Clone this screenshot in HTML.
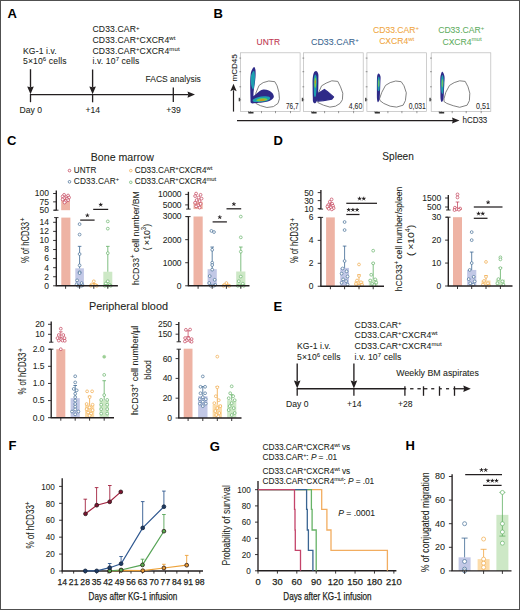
<!DOCTYPE html><html><head><meta charset="utf-8"><style>html,body{margin:0;padding:0;background:#fff;}svg{display:block;}text{font-family:"Liberation Sans", sans-serif;}</style></head><body>
<svg width="520" height="610" viewBox="0 0 520 610">
<rect x="0" y="0" width="520" height="610" fill="#fff" />
<text x="7.6" y="18.4" font-size="13" fill="#000" font-weight="bold">A</text>
<text x="213.6" y="18.3" font-size="13" fill="#000" font-weight="bold">B</text>
<text x="6.9" y="145" font-size="13" fill="#000" font-weight="bold">C</text>
<text x="273.6" y="145" font-size="13" fill="#000" font-weight="bold">D</text>
<text x="273.6" y="310.8" font-size="13" fill="#000" font-weight="bold">E</text>
<text x="8.5" y="450" font-size="13" fill="#000" font-weight="bold">F</text>
<text x="209.8" y="450.5" font-size="13" fill="#000" font-weight="bold">G</text>
<text x="405.6" y="450.3" font-size="13" fill="#000" font-weight="bold">H</text>
<text x="23" y="53.5" font-size="8.6" fill="#231f20" stroke="#231f20" stroke-width="0.07" style="letter-spacing:0.12px">KG-1 i.v.</text>
<text x="23" y="64" font-size="8.6" fill="#231f20" stroke="#231f20" stroke-width="0.07" style="letter-spacing:0.12px">5×10<tspan dy="-2.9" font-size="6.0">6</tspan><tspan dy="2.9">​</tspan> cells</text>
<line x1="30.5" y1="69.2" x2="30.5" y2="87.4" stroke="#231f20" stroke-width="1.35"/>
<path d="M27.2,86.4 L30.5,94.2 L33.8,86.4 L30.5,87.2 Z" fill="#231f20"/>
<line x1="29.9" y1="94.6" x2="188.5" y2="94.6" stroke="#231f20" stroke-width="1.3"/>
<path d="M187.5,91.39999999999999 L195,94.6 L187.5,97.8 L188.3,94.6 Z" fill="#231f20"/>
<line x1="30.5" y1="94.6" x2="30.5" y2="102.2" stroke="#231f20" stroke-width="1.3"/>
<line x1="92.6" y1="94.6" x2="92.6" y2="102.3" stroke="#231f20" stroke-width="1.3"/>
<line x1="173.3" y1="87.5" x2="173.3" y2="102" stroke="#231f20" stroke-width="1.3"/>
<line x1="92.6" y1="69.5" x2="92.6" y2="87.4" stroke="#231f20" stroke-width="1.35"/>
<path d="M89.3,86.4 L92.6,94.2 L95.89999999999999,86.4 L92.6,87.2 Z" fill="#231f20"/>
<text x="30.7" y="113" font-size="8.6" fill="#231f20" stroke="#231f20" stroke-width="0.07" text-anchor="middle">Day 0</text>
<text x="92.7" y="113" font-size="8.6" fill="#231f20" stroke="#231f20" stroke-width="0.07" text-anchor="middle">+14</text>
<text x="173.6" y="113.1" font-size="8.6" fill="#231f20" stroke="#231f20" stroke-width="0.07" text-anchor="middle">+39</text>
<text x="145.6" y="82.4" font-size="8.6" fill="#231f20" stroke="#231f20" stroke-width="0.07" textLength="55.2" lengthAdjust="spacingAndGlyphs">FACS analysis</text>
<text x="92.5" y="32.4" font-size="8.6" fill="#231f20" stroke="#231f20" stroke-width="0.07" style="letter-spacing:0.12px">CD33.CAR<tspan dy="-2.9" font-size="6.0">+</tspan><tspan dy="2.9">​</tspan></text>
<text x="92.5" y="42.9" font-size="8.6" fill="#231f20" stroke="#231f20" stroke-width="0.07" style="letter-spacing:0.12px">CD33.CAR<tspan dy="-2.9" font-size="6.0">+</tspan><tspan dy="2.9">​</tspan>CXCR4<tspan dy="-2.9" font-size="6.0">wt</tspan><tspan dy="2.9">​</tspan></text>
<text x="92.5" y="53.5" font-size="8.6" fill="#231f20" stroke="#231f20" stroke-width="0.07" style="letter-spacing:0.12px">CD33.CAR<tspan dy="-2.9" font-size="6.0">+</tspan><tspan dy="2.9">​</tspan>CXCR4<tspan dy="-2.9" font-size="6.0">mut</tspan><tspan dy="2.9">​</tspan></text>
<text x="92.5" y="64" font-size="8.6" fill="#231f20" stroke="#231f20" stroke-width="0.07" style="letter-spacing:0.12px">i.v. 10<tspan dy="-2.9" font-size="6.0">7</tspan><tspan dy="2.9">​</tspan> cells</text>
<text x="297" y="348.9" font-size="8.6" fill="#231f20" stroke="#231f20" stroke-width="0.07" style="letter-spacing:0.12px">KG-1 i.v.</text>
<text x="297" y="359.6" font-size="8.6" fill="#231f20" stroke="#231f20" stroke-width="0.07" style="letter-spacing:0.12px">5×10<tspan dy="-2.9" font-size="6.0">6</tspan><tspan dy="2.9">​</tspan> cells</text>
<line x1="297.2" y1="363.6" x2="297.2" y2="381.59999999999997" stroke="#231f20" stroke-width="1.35"/>
<path d="M293.9,380.59999999999997 L297.2,388.4 L300.5,380.59999999999997 L297.2,381.4 Z" fill="#231f20"/>
<line x1="353.9" y1="363.6" x2="353.9" y2="381.59999999999997" stroke="#231f20" stroke-width="1.35"/>
<path d="M350.59999999999997,380.59999999999997 L353.9,388.4 L357.2,380.59999999999997 L353.9,381.4 Z" fill="#231f20"/>
<line x1="296.6" y1="388.75" x2="406.2" y2="388.75" stroke="#231f20" stroke-width="1.3"/>
<line x1="410.1" y1="388.75" x2="413.5" y2="388.75" stroke="#231f20" stroke-width="1.3"/>
<line x1="417.4" y1="388.75" x2="420.8" y2="388.75" stroke="#231f20" stroke-width="1.3"/>
<line x1="423.5" y1="388.75" x2="427.4" y2="388.75" stroke="#231f20" stroke-width="1.3"/>
<line x1="431.2" y1="388.75" x2="434.3" y2="388.75" stroke="#231f20" stroke-width="1.3"/>
<line x1="439.5" y1="388.75" x2="441.8" y2="388.75" stroke="#231f20" stroke-width="1.3"/>
<line x1="446" y1="388.75" x2="449.1" y2="388.75" stroke="#231f20" stroke-width="1.3"/>
<line x1="453.3" y1="388.75" x2="464.3" y2="388.75" stroke="#231f20" stroke-width="1.3"/>
<path d="M463.3,385.55 L470.8,388.75 L463.3,391.95 L464.1,388.75 Z" fill="#231f20"/>
<line x1="297.2" y1="388.75" x2="297.2" y2="395.7" stroke="#231f20" stroke-width="1.3"/>
<line x1="353.9" y1="388.75" x2="353.9" y2="395.7" stroke="#231f20" stroke-width="1.3"/>
<line x1="404.9" y1="386.3" x2="404.9" y2="395.8" stroke="#231f20" stroke-width="1.3"/>
<line x1="423.5" y1="386.3" x2="423.5" y2="395.8" stroke="#231f20" stroke-width="1.3"/>
<line x1="439.5" y1="386.3" x2="439.5" y2="395.8" stroke="#231f20" stroke-width="1.3"/>
<line x1="454.5" y1="386.3" x2="454.5" y2="395.8" stroke="#231f20" stroke-width="1.3"/>
<text x="297.3" y="407" font-size="8.6" fill="#231f20" stroke="#231f20" stroke-width="0.07" text-anchor="middle">Day 0</text>
<text x="354.3" y="407" font-size="8.6" fill="#231f20" stroke="#231f20" stroke-width="0.07" text-anchor="middle">+14</text>
<text x="405.3" y="406.5" font-size="8.6" fill="#231f20" stroke="#231f20" stroke-width="0.07" text-anchor="middle">+28</text>
<text x="396.3" y="375.8" font-size="8.6" fill="#231f20" stroke="#231f20" stroke-width="0.07" textLength="82.5" lengthAdjust="spacingAndGlyphs">Weekly BM aspirates</text>
<text x="354.6" y="327.7" font-size="8.6" fill="#231f20" stroke="#231f20" stroke-width="0.07" style="letter-spacing:0.12px">CD33.CAR<tspan dy="-2.9" font-size="6.0">+</tspan><tspan dy="2.9">​</tspan></text>
<text x="354.6" y="338.3" font-size="8.6" fill="#231f20" stroke="#231f20" stroke-width="0.07" style="letter-spacing:0.12px">CD33.CAR<tspan dy="-2.9" font-size="6.0">+</tspan><tspan dy="2.9">​</tspan>CXCR4<tspan dy="-2.9" font-size="6.0">wt</tspan><tspan dy="2.9">​</tspan></text>
<text x="354.6" y="348.9" font-size="8.6" fill="#231f20" stroke="#231f20" stroke-width="0.07" style="letter-spacing:0.12px">CD33.CAR<tspan dy="-2.9" font-size="6.0">+</tspan><tspan dy="2.9">​</tspan>CXCR4<tspan dy="-2.9" font-size="6.0">mut</tspan><tspan dy="2.9">​</tspan></text>
<text x="354.6" y="359.6" font-size="8.6" fill="#231f20" stroke="#231f20" stroke-width="0.07" style="letter-spacing:0.12px">i.v. 10<tspan dy="-2.9" font-size="6.0">7</tspan><tspan dy="2.9">​</tspan> cells</text>
<rect x="240.5" y="52.8" width="59.6" height="58.8" fill="none" stroke="#b9b9b9" stroke-width="0.7"/>
<line x1="239.3" y1="58.1" x2="241.1" y2="58.1" stroke="#555" stroke-width="0.6"/>
<line x1="239.3" y1="71.7" x2="241.1" y2="71.7" stroke="#555" stroke-width="0.6"/>
<line x1="239.3" y1="86.8" x2="241.1" y2="86.8" stroke="#555" stroke-width="0.6"/>
<line x1="239.3" y1="99.8" x2="241.1" y2="99.8" stroke="#555" stroke-width="0.6"/>
<line x1="248.5" y1="111.1" x2="248.5" y2="113.19999999999999" stroke="#555" stroke-width="0.6"/>
<line x1="250.5" y1="111.1" x2="250.5" y2="113.19999999999999" stroke="#555" stroke-width="0.6"/>
<line x1="261.5" y1="111.1" x2="261.5" y2="113.19999999999999" stroke="#555" stroke-width="0.6"/>
<line x1="275.5" y1="111.1" x2="275.5" y2="113.19999999999999" stroke="#555" stroke-width="0.6"/>
<line x1="290.5" y1="111.1" x2="290.5" y2="113.19999999999999" stroke="#555" stroke-width="0.6"/>
<rect x="248.5" y="111.89999999999999" width="5" height="1.6" fill="#333" />
<rect x="238.7" y="97.8" width="1.4" height="3.5" fill="#444" />
<rect x="303.6" y="52.8" width="59.6" height="58.8" fill="none" stroke="#b9b9b9" stroke-width="0.7"/>
<line x1="302.40000000000003" y1="58.1" x2="304.20000000000005" y2="58.1" stroke="#555" stroke-width="0.6"/>
<line x1="302.40000000000003" y1="71.7" x2="304.20000000000005" y2="71.7" stroke="#555" stroke-width="0.6"/>
<line x1="302.40000000000003" y1="86.8" x2="304.20000000000005" y2="86.8" stroke="#555" stroke-width="0.6"/>
<line x1="302.40000000000003" y1="99.8" x2="304.20000000000005" y2="99.8" stroke="#555" stroke-width="0.6"/>
<line x1="311.6" y1="111.1" x2="311.6" y2="113.19999999999999" stroke="#555" stroke-width="0.6"/>
<line x1="313.6" y1="111.1" x2="313.6" y2="113.19999999999999" stroke="#555" stroke-width="0.6"/>
<line x1="324.6" y1="111.1" x2="324.6" y2="113.19999999999999" stroke="#555" stroke-width="0.6"/>
<line x1="338.6" y1="111.1" x2="338.6" y2="113.19999999999999" stroke="#555" stroke-width="0.6"/>
<line x1="353.6" y1="111.1" x2="353.6" y2="113.19999999999999" stroke="#555" stroke-width="0.6"/>
<rect x="311.6" y="111.89999999999999" width="5" height="1.6" fill="#333" />
<rect x="301.8" y="97.8" width="1.4" height="3.5" fill="#444" />
<rect x="366.9" y="52.8" width="59.6" height="58.8" fill="none" stroke="#b9b9b9" stroke-width="0.7"/>
<line x1="365.7" y1="58.1" x2="367.5" y2="58.1" stroke="#555" stroke-width="0.6"/>
<line x1="365.7" y1="71.7" x2="367.5" y2="71.7" stroke="#555" stroke-width="0.6"/>
<line x1="365.7" y1="86.8" x2="367.5" y2="86.8" stroke="#555" stroke-width="0.6"/>
<line x1="365.7" y1="99.8" x2="367.5" y2="99.8" stroke="#555" stroke-width="0.6"/>
<line x1="374.9" y1="111.1" x2="374.9" y2="113.19999999999999" stroke="#555" stroke-width="0.6"/>
<line x1="376.9" y1="111.1" x2="376.9" y2="113.19999999999999" stroke="#555" stroke-width="0.6"/>
<line x1="387.9" y1="111.1" x2="387.9" y2="113.19999999999999" stroke="#555" stroke-width="0.6"/>
<line x1="401.9" y1="111.1" x2="401.9" y2="113.19999999999999" stroke="#555" stroke-width="0.6"/>
<line x1="416.9" y1="111.1" x2="416.9" y2="113.19999999999999" stroke="#555" stroke-width="0.6"/>
<rect x="374.9" y="111.89999999999999" width="5" height="1.6" fill="#333" />
<rect x="365.09999999999997" y="97.8" width="1.4" height="3.5" fill="#444" />
<rect x="431.2" y="52.8" width="59.6" height="58.8" fill="none" stroke="#b9b9b9" stroke-width="0.7"/>
<line x1="430.0" y1="58.1" x2="431.8" y2="58.1" stroke="#555" stroke-width="0.6"/>
<line x1="430.0" y1="71.7" x2="431.8" y2="71.7" stroke="#555" stroke-width="0.6"/>
<line x1="430.0" y1="86.8" x2="431.8" y2="86.8" stroke="#555" stroke-width="0.6"/>
<line x1="430.0" y1="99.8" x2="431.8" y2="99.8" stroke="#555" stroke-width="0.6"/>
<line x1="439.2" y1="111.1" x2="439.2" y2="113.19999999999999" stroke="#555" stroke-width="0.6"/>
<line x1="441.2" y1="111.1" x2="441.2" y2="113.19999999999999" stroke="#555" stroke-width="0.6"/>
<line x1="452.2" y1="111.1" x2="452.2" y2="113.19999999999999" stroke="#555" stroke-width="0.6"/>
<line x1="466.2" y1="111.1" x2="466.2" y2="113.19999999999999" stroke="#555" stroke-width="0.6"/>
<line x1="481.2" y1="111.1" x2="481.2" y2="113.19999999999999" stroke="#555" stroke-width="0.6"/>
<rect x="439.2" y="111.89999999999999" width="5" height="1.6" fill="#333" />
<rect x="429.4" y="97.8" width="1.4" height="3.5" fill="#444" />
<path d="M255.8,93.2 L259.1,85.4 L263.2,82.6 L268.8,81.0 L274.8,81.7 L277.1,85.8 L278.9,92.3 L279.4,98.8 L278.0,103.4 L273.4,106.6 L266.9,107.5 L260.5,105.7 L255.8,103.4 Z" stroke="#6a6a6a" stroke-width="0.85" fill="none" />
<path d="M317.9,94.2 L321.6,85.8 L326.2,83.1 L331.8,80.8 L337.8,81.4 L340.5,86.8 L342.8,93.2 L342.4,99.7 L340.1,103.4 L335.5,106.2 L329.9,107.1 L323.5,105.2 L317.9,102.6 Z" stroke="#6a6a6a" stroke-width="0.85" fill="none" />
<path d="M379.5,98.8 L381.8,92.3 L385.5,85.4 L390.2,82.6 L395.7,81.0 L401.2,81.7 L404.0,85.8 L406.3,92.8 L405.4,100.6 L403.1,105.2 L396.6,107.1 L390.2,106.2 L383.7,103.4 L380.0,100.6 Z" stroke="#6a6a6a" stroke-width="0.85" fill="none" />
<path d="M444.0,98.8 L445.8,92.3 L449.5,85.4 L454.2,82.6 L459.7,80.8 L465.2,81.4 L468.0,86.8 L469.8,93.2 L469.4,100.6 L467.1,105.2 L459.7,107.3 L453.2,105.7 L446.8,103.4 L444.0,101.5 Z" stroke="#6a6a6a" stroke-width="0.85" fill="none" />
<text x="268.3" y="45" font-size="8.8" fill="#c0354f" stroke="#c0354f" stroke-width="0.07" text-anchor="middle" textLength="23.5" lengthAdjust="spacingAndGlyphs">UNTR</text>
<text x="334.9" y="45" font-size="8.8" fill="#3b6690" stroke="#3b6690" stroke-width="0.07" text-anchor="middle" style="letter-spacing:0.1px">CD33.CAR<tspan dy="-3.4" font-size="6">+</tspan><tspan dy="3.4">​</tspan></text>
<text x="396" y="33" font-size="8.6" fill="#f0a540" stroke="#f0a540" stroke-width="0.07" text-anchor="middle">CD33.CAR<tspan dy="-3.4" font-size="6">+</tspan><tspan dy="3.4">​</tspan></text>
<text x="396.7" y="44" font-size="8.6" fill="#f0a540" stroke="#f0a540" stroke-width="0.07" text-anchor="middle">CXCR4<tspan dy="-3.4" font-size="6">wt</tspan><tspan dy="3.4">​</tspan></text>
<text x="461.2" y="33" font-size="8.6" fill="#5fae62" stroke="#5fae62" stroke-width="0.07" text-anchor="middle">CD33.CAR<tspan dy="-3.4" font-size="6">+</tspan><tspan dy="3.4">​</tspan></text>
<text x="462" y="44.5" font-size="8.6" fill="#5fae62" stroke="#5fae62" stroke-width="0.07" text-anchor="middle">CXCR4<tspan dy="-3.4" font-size="6">mut</tspan><tspan dy="3.4">​</tspan></text>
<path d="M254.00,66.90 C254.63,66.73 255.13,68.15 255.40,69.50 C255.67,70.85 255.63,73.25 255.60,75.00 C255.57,76.75 255.40,78.17 255.20,80.00 C255.00,81.83 254.67,84.00 254.40,86.00 C254.13,88.00 253.78,90.17 253.60,92.00 C253.42,93.83 253.70,95.18 253.30,97.00 C252.90,98.82 251.65,102.30 251.20,102.90 C250.75,103.50 250.75,102.42 250.60,100.60 C250.45,98.78 250.37,94.93 250.30,92.00 C250.23,89.07 250.15,85.83 250.20,83.00 C250.25,80.17 250.37,77.08 250.60,75.00 C250.83,72.92 251.03,71.85 251.60,70.50 C252.17,69.15 253.37,67.07 254.00,66.90 Z" stroke="none" stroke-width="0" fill="#2e2a88" />
<path d="M253.90,70.80 C254.57,70.80 254.92,73.80 255.00,76.00 C255.08,78.20 254.70,81.75 254.40,84.00 C254.10,86.25 253.73,89.33 253.20,89.50 C252.67,89.67 251.57,87.25 251.20,85.00 C250.83,82.75 250.55,78.37 251.00,76.00 C251.45,73.63 253.23,70.80 253.90,70.80 Z" stroke="none" stroke-width="0" fill="#1e9fb0" />
<path d="M251.50,98.00 C252.27,96.53 254.30,95.45 255.80,94.20 C257.30,92.95 259.10,91.28 260.50,90.50 C261.90,89.72 262.82,89.50 264.20,89.50 C265.58,89.50 267.42,89.88 268.80,90.50 C270.18,91.12 271.67,92.13 272.50,93.20 C273.33,94.27 273.97,95.82 273.80,96.90 C273.63,97.98 272.50,98.93 271.50,99.70 C270.50,100.47 269.33,101.03 267.80,101.50 C266.27,101.97 264.30,102.25 262.30,102.50 C260.30,102.75 257.65,102.92 255.80,103.00 C253.95,103.08 251.92,103.83 251.20,103.00 C250.48,102.17 250.73,99.47 251.50,98.00 Z" stroke="none" stroke-width="0" fill="#2e2a88" />
<path d="M253.00,99.50 C253.75,98.73 256.17,97.75 258.00,97.20 C259.83,96.65 262.17,96.27 264.00,96.20 C265.83,96.13 268.00,96.33 269.00,96.80 C270.00,97.27 270.50,98.27 270.00,99.00 C269.50,99.73 268.00,100.70 266.00,101.20 C264.00,101.70 260.08,101.90 258.00,102.00 C255.92,102.10 254.33,102.22 253.50,101.80 C252.67,101.38 252.25,100.27 253.00,99.50 Z" stroke="none" stroke-width="0" fill="#1e9fb0" />
<path d="M256.50,100.00 C256.83,99.55 258.58,98.78 260.00,98.50 C261.42,98.22 263.75,98.13 265.00,98.30 C266.25,98.47 267.67,99.05 267.50,99.50 C267.33,99.95 265.58,100.72 264.00,101.00 C262.42,101.28 259.25,101.37 258.00,101.20 C256.75,101.03 256.17,100.45 256.50,100.00 Z" stroke="none" stroke-width="0" fill="#7fcf3f" />
<path d="M259.50,100.00 C259.67,99.72 261.17,99.30 262.00,99.20 C262.83,99.10 264.17,99.17 264.50,99.40 C264.83,99.63 264.58,100.35 264.00,100.60 C263.42,100.85 261.75,101.00 261.00,100.90 C260.25,100.80 259.33,100.28 259.50,100.00 Z" stroke="none" stroke-width="0" fill="#e08a20" />
<path d="M316.10,71.10 C316.83,71.25 317.82,72.32 318.20,73.80 C318.58,75.28 318.38,77.68 318.40,80.00 C318.42,82.32 318.43,84.57 318.30,87.70 C318.17,90.83 318.07,96.25 317.60,98.80 C317.13,101.35 316.23,102.47 315.50,103.00 C314.77,103.53 313.65,103.02 313.20,102.00 C312.75,100.98 312.90,99.73 312.80,96.90 C312.70,94.07 312.62,88.07 312.60,85.00 C312.58,81.93 312.50,80.52 312.70,78.50 C312.90,76.48 313.23,74.13 313.80,72.90 C314.37,71.67 315.37,70.95 316.10,71.10 Z" stroke="none" stroke-width="0" fill="#2e2a88" />
<path d="M315.30,74.50 C315.78,74.50 316.58,75.75 316.80,78.00 C317.02,80.25 316.77,85.00 316.60,88.00 C316.43,91.00 316.20,94.67 315.80,96.00 C315.40,97.33 314.53,97.33 314.20,96.00 C313.87,94.67 313.85,91.00 313.80,88.00 C313.75,85.00 313.65,80.25 313.90,78.00 C314.15,75.75 314.82,74.50 315.30,74.50 Z" stroke="none" stroke-width="0" fill="#1e9fb0" />
<path d="M315.30,77.50 C315.58,77.50 316.08,78.58 316.20,80.00 C316.32,81.42 316.17,84.67 316.00,86.00 C315.83,87.33 315.45,88.00 315.20,88.00 C314.95,88.00 314.62,87.33 314.50,86.00 C314.38,84.67 314.37,81.42 314.50,80.00 C314.63,78.58 315.02,77.50 315.30,77.50 Z" stroke="none" stroke-width="0" fill="#7fcf3f" />
<path d="M315.20,80.00 C315.38,80.00 315.80,81.33 315.80,82.00 C315.80,82.67 315.38,84.00 315.20,84.00 C315.02,84.00 314.70,82.67 314.70,82.00 C314.70,81.33 315.02,80.00 315.20,80.00 Z" stroke="none" stroke-width="0" fill="#e08a20" />
<path d="M317.0,94.2 L324.4,89.4 L327.2,91.4 L333.6,96.9 L331.8,99.2 L323.5,100.6 L317.9,101.1 Z" stroke="#2e2a88" stroke-width="1.2" fill="#2e2a88" stroke-linejoin="round"/>
<path d="M378.90,73.60 C379.38,73.93 380.25,75.20 380.50,76.60 C380.75,78.00 380.45,80.15 380.40,82.00 C380.35,83.85 380.33,84.90 380.20,87.70 C380.07,90.50 379.97,96.38 379.60,98.80 C379.23,101.22 378.43,102.17 378.00,102.20 C377.57,102.23 377.18,101.03 377.00,99.00 C376.82,96.97 376.90,93.42 376.90,90.00 C376.90,86.58 376.88,81.07 377.00,78.50 C377.12,75.93 377.28,75.42 377.60,74.60 C377.92,73.78 378.42,73.27 378.90,73.60 Z" stroke="none" stroke-width="0" fill="#2e2a88" />
<path d="M378.80,76.50 C379.15,76.50 379.67,77.92 379.80,80.00 C379.93,82.08 379.80,87.17 379.60,89.00 C379.40,90.83 378.93,91.00 378.60,91.00 C378.27,91.00 377.75,90.83 377.60,89.00 C377.45,87.17 377.50,82.08 377.70,80.00 C377.90,77.92 378.45,76.50 378.80,76.50 Z" stroke="none" stroke-width="0" fill="#1e9fb0" />
<path d="M378.80,79.50 C379.02,79.67 379.33,80.92 379.40,82.00 C379.47,83.08 379.35,85.17 379.20,86.00 C379.05,86.83 378.70,87.17 378.50,87.00 C378.30,86.83 378.07,86.00 378.00,85.00 C377.93,84.00 377.97,81.92 378.10,81.00 C378.23,80.08 378.58,79.33 378.80,79.50 Z" stroke="none" stroke-width="0" fill="#6cc36a" />
<path d="M442.60,71.80 C443.15,72.33 444.22,74.57 444.50,76.60 C444.78,78.63 444.38,81.85 444.30,84.00 C444.22,86.15 444.13,87.03 444.00,89.50 C443.87,91.97 443.87,96.73 443.50,98.80 C443.13,100.87 442.28,101.87 441.80,101.90 C441.32,101.93 440.83,100.98 440.60,99.00 C440.37,97.02 440.45,93.42 440.40,90.00 C440.35,86.58 440.17,81.27 440.30,78.50 C440.43,75.73 440.82,74.52 441.20,73.40 C441.58,72.28 442.05,71.27 442.60,71.80 Z" stroke="none" stroke-width="0" fill="#2e2a88" />
<path d="M442.50,75.00 C442.92,75.00 443.55,76.50 443.70,79.00 C443.85,81.50 443.62,87.50 443.40,90.00 C443.18,92.50 442.77,94.00 442.40,94.00 C442.03,94.00 441.40,92.50 441.20,90.00 C441.00,87.50 440.98,81.50 441.20,79.00 C441.42,76.50 442.08,75.00 442.50,75.00 Z" stroke="none" stroke-width="0" fill="#1e9fb0" />
<path d="M442.50,79.00 C442.73,79.17 443.12,80.83 443.20,82.00 C443.28,83.17 443.15,85.08 443.00,86.00 C442.85,86.92 442.52,87.67 442.30,87.50 C442.08,87.33 441.78,86.08 441.70,85.00 C441.62,83.92 441.67,82.00 441.80,81.00 C441.93,80.00 442.27,78.83 442.50,79.00 Z" stroke="none" stroke-width="0" fill="#6cc36a" />
<text x="286.0" y="108.9" font-size="9.0" fill="#2a2a2a" stroke="#2a2a2a" stroke-width="0.07" textLength="12.5" lengthAdjust="spacingAndGlyphs">76,7</text>
<text x="348.8" y="108.9" font-size="9.0" fill="#2a2a2a" stroke="#2a2a2a" stroke-width="0.07" textLength="13.5" lengthAdjust="spacingAndGlyphs">4,60</text>
<text x="408.8" y="108.9" font-size="9.0" fill="#2a2a2a" stroke="#2a2a2a" stroke-width="0.07" textLength="17" lengthAdjust="spacingAndGlyphs">0,031</text>
<text x="476.0" y="108.9" font-size="9.0" fill="#2a2a2a" stroke="#2a2a2a" stroke-width="0.07" textLength="13.9" lengthAdjust="spacingAndGlyphs">0,51</text>
<line x1="233.5" y1="111.6" x2="233.5" y2="90.3" stroke="#231f20" stroke-width="1.2"/>
<path d="M230.3,91.3 L233.5,83.8 L236.7,91.3 L233.5,89.8 Z" fill="#231f20"/>
<text x="236.7" y="81.4" font-size="7.6" fill="#222" stroke="#222" stroke-width="0.07" textLength="27.2" lengthAdjust="spacingAndGlyphs" transform="rotate(-90 236.7 81.4)">mCD45</text>
<line x1="237" y1="120.6" x2="453.0" y2="120.6" stroke="#231f20" stroke-width="1.3"/>
<path d="M452.0,117.6 L459.5,120.6 L452.0,123.6 L452.8,120.6 Z" fill="#231f20"/>
<text x="462.5" y="123.2" font-size="9.9" fill="#222" stroke="#222" stroke-width="0.07" textLength="24.8" lengthAdjust="spacingAndGlyphs">hCD33</text>
<text x="90.8" y="160.6" font-size="10.2" fill="#231f20" stroke="#231f20" stroke-width="0.07" textLength="63" lengthAdjust="spacingAndGlyphs">Bone marrow</text>
<circle cx="69.5" cy="170.6" r="1.3" stroke="#c0354f" stroke-width="0.7" fill="#fff"/>
<circle cx="69.5" cy="181.8" r="1.3" stroke="#3b6690" stroke-width="0.7" fill="#fff"/>
<circle cx="130.8" cy="170.6" r="1.3" stroke="#f0a540" stroke-width="0.7" fill="#fff"/>
<circle cx="130.8" cy="182.3" r="1.3" stroke="#5fae62" stroke-width="0.7" fill="#fff"/>
<text x="73.8" y="173.3" font-size="8.6" fill="#231f20" stroke="#231f20" stroke-width="0.07" textLength="22.5" lengthAdjust="spacingAndGlyphs">UNTR</text>
<text x="73.8" y="183.9" font-size="8.3" fill="#231f20" stroke="#231f20" stroke-width="0.07" style="letter-spacing:0.12px">CD33.CAR<tspan dy="-3.3" font-size="5.8">+</tspan><tspan dy="3.3">​</tspan></text>
<text x="134.8" y="173.3" font-size="8.2" fill="#231f20" stroke="#231f20" stroke-width="0.07">CD33.CAR<tspan dy="-3.3" font-size="5.8">+</tspan><tspan dy="3.3">​</tspan>CXCR4<tspan dy="-3.3" font-size="5.8">wt</tspan><tspan dy="3.3">​</tspan></text>
<text x="134.8" y="183.9" font-size="8.2" fill="#231f20" stroke="#231f20" stroke-width="0.07">CD33.CAR<tspan dy="-3.3" font-size="5.8">+</tspan><tspan dy="3.3">​</tspan>CXCR4<tspan dy="-3.3" font-size="5.8">mut</tspan><tspan dy="3.3">​</tspan></text>
<line x1="56.3" y1="190.5" x2="56.3" y2="210.2" stroke="#231f20" stroke-width="1.35"/>
<line x1="53.099999999999994" y1="193.5" x2="56.3" y2="193.5" stroke="#231f20" stroke-width="0.9"/>
<text x="48.9" y="196.4" font-size="8.5" fill="#231f20" stroke="#231f20" stroke-width="0.07" text-anchor="end">100</text>
<line x1="53.099999999999994" y1="201.85" x2="56.3" y2="201.85" stroke="#231f20" stroke-width="0.9"/>
<text x="48.9" y="204.75" font-size="8.5" fill="#231f20" stroke="#231f20" stroke-width="0.07" text-anchor="end">75</text>
<line x1="53.099999999999994" y1="210.2" x2="56.3" y2="210.2" stroke="#231f20" stroke-width="0.9"/>
<text x="48.9" y="213.1" font-size="8.5" fill="#231f20" stroke="#231f20" stroke-width="0.07" text-anchor="end">50</text>
<line x1="54.099999999999994" y1="210.2" x2="58.5" y2="210.2" stroke="#231f20" stroke-width="0.9"/>
<line x1="56.3" y1="217.6" x2="56.3" y2="285.8" stroke="#231f20" stroke-width="1.35"/>
<line x1="53.099999999999994" y1="222.31" x2="56.3" y2="222.31" stroke="#231f20" stroke-width="0.9"/>
<text x="48.9" y="225.21" font-size="8.5" fill="#231f20" stroke="#231f20" stroke-width="0.07" text-anchor="end">14</text>
<line x1="53.099999999999994" y1="231.38" x2="56.3" y2="231.38" stroke="#231f20" stroke-width="0.9"/>
<text x="48.9" y="234.28" font-size="8.5" fill="#231f20" stroke="#231f20" stroke-width="0.07" text-anchor="end">12</text>
<line x1="53.099999999999994" y1="240.45000000000002" x2="56.3" y2="240.45000000000002" stroke="#231f20" stroke-width="0.9"/>
<text x="48.9" y="243.35000000000002" font-size="8.5" fill="#231f20" stroke="#231f20" stroke-width="0.07" text-anchor="end">10</text>
<line x1="53.099999999999994" y1="249.52" x2="56.3" y2="249.52" stroke="#231f20" stroke-width="0.9"/>
<text x="48.9" y="252.42000000000002" font-size="8.5" fill="#231f20" stroke="#231f20" stroke-width="0.07" text-anchor="end">8</text>
<line x1="53.099999999999994" y1="258.59000000000003" x2="56.3" y2="258.59000000000003" stroke="#231f20" stroke-width="0.9"/>
<text x="48.9" y="261.49" font-size="8.5" fill="#231f20" stroke="#231f20" stroke-width="0.07" text-anchor="end">6</text>
<line x1="53.099999999999994" y1="267.66" x2="56.3" y2="267.66" stroke="#231f20" stroke-width="0.9"/>
<text x="48.9" y="270.56" font-size="8.5" fill="#231f20" stroke="#231f20" stroke-width="0.07" text-anchor="end">4</text>
<line x1="53.099999999999994" y1="276.73" x2="56.3" y2="276.73" stroke="#231f20" stroke-width="0.9"/>
<text x="48.9" y="279.63" font-size="8.5" fill="#231f20" stroke="#231f20" stroke-width="0.07" text-anchor="end">2</text>
<line x1="53.099999999999994" y1="285.8" x2="56.3" y2="285.8" stroke="#231f20" stroke-width="0.9"/>
<text x="48.9" y="288.7" font-size="8.5" fill="#231f20" stroke="#231f20" stroke-width="0.07" text-anchor="end">0</text>
<line x1="54.099999999999994" y1="217.6" x2="58.5" y2="217.6" stroke="#231f20" stroke-width="0.9"/>
<rect x="61.2" y="198.176" width="8.8" height="12.024000000000001" fill="#eeb3a4" />
<rect x="61.3" y="217.6" width="9.1" height="68.1" fill="#eeb3a4" />
<circle cx="64.1" cy="194.83599999999998" r="1.4" stroke="#c0354f" stroke-width="0.65" fill="#fff"/>
<circle cx="68.1" cy="195.504" r="1.4" stroke="#c0354f" stroke-width="0.65" fill="#fff"/>
<circle cx="62.599999999999994" cy="196.506" r="1.4" stroke="#c0354f" stroke-width="0.65" fill="#fff"/>
<circle cx="66.1" cy="197.17399999999998" r="1.4" stroke="#c0354f" stroke-width="0.65" fill="#fff"/>
<circle cx="69.1" cy="197.50799999999998" r="1.4" stroke="#c0354f" stroke-width="0.65" fill="#fff"/>
<circle cx="64.1" cy="198.176" r="1.4" stroke="#c0354f" stroke-width="0.65" fill="#fff"/>
<circle cx="67.1" cy="198.844" r="1.4" stroke="#c0354f" stroke-width="0.65" fill="#fff"/>
<circle cx="62.599999999999994" cy="199.512" r="1.4" stroke="#c0354f" stroke-width="0.65" fill="#fff"/>
<circle cx="68.1" cy="200.17999999999998" r="1.4" stroke="#c0354f" stroke-width="0.65" fill="#fff"/>
<circle cx="65.6" cy="201.182" r="1.4" stroke="#c0354f" stroke-width="0.65" fill="#fff"/>
<circle cx="64.6" cy="202.518" r="1.4" stroke="#c0354f" stroke-width="0.65" fill="#fff"/>
<rect x="75.3" y="268.34025" width="8.6" height="17.459749999999985" fill="#c2c8e6" />
<line x1="79.6" y1="246.34550000000002" x2="79.6" y2="268.34025" stroke="#3b6690" stroke-width="0.8"/>
<line x1="77.8" y1="246.34550000000002" x2="81.39999999999999" y2="246.34550000000002" stroke="#3b6690" stroke-width="0.8"/>
<circle cx="79.6" cy="224.12400000000002" r="1.4" stroke="#3b6690" stroke-width="0.65" fill="#fff"/>
<circle cx="79.6" cy="234.55450000000002" r="1.4" stroke="#3b6690" stroke-width="0.65" fill="#fff"/>
<circle cx="79.6" cy="254.055" r="1.4" stroke="#3b6690" stroke-width="0.65" fill="#fff"/>
<circle cx="79.6" cy="265.39250000000004" r="1.4" stroke="#3b6690" stroke-width="0.65" fill="#fff"/>
<circle cx="79.6" cy="272.195" r="1.4" stroke="#3b6690" stroke-width="0.65" fill="#fff"/>
<circle cx="79.6" cy="273.10200000000003" r="1.4" stroke="#3b6690" stroke-width="0.65" fill="#fff"/>
<circle cx="77.1" cy="280.358" r="1.4" stroke="#3b6690" stroke-width="0.65" fill="#fff"/>
<circle cx="81.6" cy="283.079" r="1.4" stroke="#3b6690" stroke-width="0.65" fill="#fff"/>
<circle cx="76.6" cy="284.4395" r="1.4" stroke="#3b6690" stroke-width="0.65" fill="#fff"/>
<circle cx="82.6" cy="285.3465" r="1.4" stroke="#3b6690" stroke-width="0.65" fill="#fff"/>
<circle cx="78.1" cy="285.8" r="1.4" stroke="#3b6690" stroke-width="0.65" fill="#fff"/>
<circle cx="81.1" cy="285.8" r="1.4" stroke="#3b6690" stroke-width="0.65" fill="#fff"/>
<rect x="89.6" y="284.4395" width="8.4" height="1.3605000000000018" fill="#fcdcaa" />
<line x1="93.8" y1="283.5325" x2="93.8" y2="284.4395" stroke="#f0a540" stroke-width="0.8"/>
<line x1="92.0" y1="283.5325" x2="95.6" y2="283.5325" stroke="#f0a540" stroke-width="0.8"/>
<circle cx="93.8" cy="281.265" r="1.4" stroke="#f0a540" stroke-width="0.65" fill="#fff"/>
<circle cx="91.8" cy="284.4395" r="1.4" stroke="#f0a540" stroke-width="0.65" fill="#fff"/>
<circle cx="95.8" cy="285.11975" r="1.4" stroke="#f0a540" stroke-width="0.65" fill="#fff"/>
<circle cx="90.8" cy="285.8" r="1.4" stroke="#f0a540" stroke-width="0.65" fill="#fff"/>
<circle cx="96.8" cy="285.8" r="1.4" stroke="#f0a540" stroke-width="0.65" fill="#fff"/>
<rect x="103.3" y="271.74150000000003" width="9.0" height="14.058499999999981" fill="#cde8c6" />
<line x1="107.8" y1="246.34550000000002" x2="107.8" y2="271.74150000000003" stroke="#5fae62" stroke-width="0.8"/>
<line x1="106.0" y1="246.34550000000002" x2="109.6" y2="246.34550000000002" stroke="#5fae62" stroke-width="0.8"/>
<circle cx="107.8" cy="221.40300000000002" r="1.4" stroke="#5fae62" stroke-width="0.65" fill="#fff"/>
<circle cx="107.8" cy="228.65900000000002" r="1.4" stroke="#5fae62" stroke-width="0.65" fill="#fff"/>
<circle cx="107.8" cy="253.14800000000002" r="1.4" stroke="#5fae62" stroke-width="0.65" fill="#fff"/>
<circle cx="107.8" cy="281.265" r="1.4" stroke="#5fae62" stroke-width="0.65" fill="#fff"/>
<circle cx="105.8" cy="283.5325" r="1.4" stroke="#5fae62" stroke-width="0.65" fill="#fff"/>
<circle cx="109.8" cy="284.89300000000003" r="1.4" stroke="#5fae62" stroke-width="0.65" fill="#fff"/>
<circle cx="104.8" cy="285.8" r="1.4" stroke="#5fae62" stroke-width="0.65" fill="#fff"/>
<circle cx="107.8" cy="285.8" r="1.4" stroke="#5fae62" stroke-width="0.65" fill="#fff"/>
<circle cx="110.8" cy="285.8" r="1.4" stroke="#5fae62" stroke-width="0.65" fill="#fff"/>
<line x1="55.699999999999996" y1="285.8" x2="117.9" y2="285.8" stroke="#231f20" stroke-width="1.4"/>
<line x1="65.6" y1="285.8" x2="65.6" y2="288.8" stroke="#231f20" stroke-width="0.9"/>
<line x1="79.6" y1="285.8" x2="79.6" y2="288.8" stroke="#231f20" stroke-width="0.9"/>
<line x1="93.8" y1="285.8" x2="93.8" y2="288.8" stroke="#231f20" stroke-width="0.9"/>
<line x1="107.8" y1="285.8" x2="107.8" y2="288.8" stroke="#231f20" stroke-width="0.9"/>
<line x1="80.2" y1="220.1" x2="94.6" y2="220.1" stroke="#231f20" stroke-width="1.25"/>
<path d="M87.40,215.50 L87.40,213.95 M87.40,215.50 L88.87,215.02 M87.40,215.50 L88.31,216.75 M87.40,215.50 L86.49,216.75 M87.40,215.50 L85.93,215.02 " stroke="#231f20" stroke-width="0.95" fill="none" stroke-linecap="round"/>
<line x1="93.2" y1="209.4" x2="108.2" y2="209.4" stroke="#231f20" stroke-width="1.25"/>
<path d="M100.70,204.80 L100.70,203.25 M100.70,204.80 L102.17,204.32 M100.70,204.80 L101.61,206.05 M100.70,204.80 L99.79,206.05 M100.70,204.80 L99.23,204.32 " stroke="#231f20" stroke-width="0.95" fill="none" stroke-linecap="round"/>
<text x="28.6" y="263" font-size="10.8" fill="#231f20" stroke="#231f20" stroke-width="0.07" textLength="40.9" lengthAdjust="spacingAndGlyphs" transform="rotate(-90 28.6 263)">% of hCD33</text>
<text x="25.3" y="221.2" font-size="6.6" fill="#231f20" stroke="#231f20" stroke-width="0.07" transform="rotate(-90 25.3 221.2)">+</text>
<line x1="188.4" y1="191.8" x2="188.4" y2="209.09978999999998" stroke="#231f20" stroke-width="1.35"/>
<line x1="185.20000000000002" y1="194.4" x2="188.4" y2="194.4" stroke="#231f20" stroke-width="0.9"/>
<text x="181.6" y="197.3" font-size="8.5" fill="#231f20" stroke="#231f20" stroke-width="0.07" text-anchor="end">10000</text>
<line x1="185.20000000000002" y1="204.9" x2="188.4" y2="204.9" stroke="#231f20" stroke-width="0.9"/>
<text x="181.6" y="207.8" font-size="8.5" fill="#231f20" stroke="#231f20" stroke-width="0.07" text-anchor="end">5000</text>
<line x1="186.20000000000002" y1="209.09978999999998" x2="190.6" y2="209.09978999999998" stroke="#231f20" stroke-width="0.9"/>
<line x1="188.4" y1="216.6" x2="188.4" y2="285.8" stroke="#231f20" stroke-width="1.35"/>
<line x1="185.20000000000002" y1="216.59000000000003" x2="188.4" y2="216.59000000000003" stroke="#231f20" stroke-width="0.9"/>
<text x="181.6" y="219.49000000000004" font-size="8.5" fill="#231f20" stroke="#231f20" stroke-width="0.07" text-anchor="end">3000</text>
<line x1="185.20000000000002" y1="239.66000000000003" x2="188.4" y2="239.66000000000003" stroke="#231f20" stroke-width="0.9"/>
<text x="181.6" y="242.56000000000003" font-size="8.5" fill="#231f20" stroke="#231f20" stroke-width="0.07" text-anchor="end">2000</text>
<line x1="185.20000000000002" y1="262.73" x2="188.4" y2="262.73" stroke="#231f20" stroke-width="0.9"/>
<text x="181.6" y="265.63" font-size="8.5" fill="#231f20" stroke="#231f20" stroke-width="0.07" text-anchor="end">1000</text>
<line x1="185.20000000000002" y1="285.8" x2="188.4" y2="285.8" stroke="#231f20" stroke-width="0.9"/>
<text x="181.6" y="288.7" font-size="8.5" fill="#231f20" stroke="#231f20" stroke-width="0.07" text-anchor="end">0</text>
<line x1="186.20000000000002" y1="216.6" x2="190.6" y2="216.6" stroke="#231f20" stroke-width="0.9"/>
<rect x="193.5" y="201.75" width="9.2" height="7.3497899999999845" fill="#eeb3a4" />
<rect x="193.5" y="216.5" width="9.2" height="69.30000000000001" fill="#eeb3a4" />
<circle cx="196.1" cy="193.56" r="1.4" stroke="#c0354f" stroke-width="0.65" fill="#fff"/>
<circle cx="200.6" cy="194.82" r="1.4" stroke="#c0354f" stroke-width="0.65" fill="#fff"/>
<circle cx="195.1" cy="196.07999999999998" r="1.4" stroke="#c0354f" stroke-width="0.65" fill="#fff"/>
<circle cx="198.6" cy="197.54999999999998" r="1.4" stroke="#c0354f" stroke-width="0.65" fill="#fff"/>
<circle cx="201.6" cy="198.6" r="1.4" stroke="#c0354f" stroke-width="0.65" fill="#fff"/>
<circle cx="196.6" cy="200.07" r="1.4" stroke="#c0354f" stroke-width="0.65" fill="#fff"/>
<circle cx="199.6" cy="201.12" r="1.4" stroke="#c0354f" stroke-width="0.65" fill="#fff"/>
<circle cx="195.1" cy="202.79999999999998" r="1.4" stroke="#c0354f" stroke-width="0.65" fill="#fff"/>
<circle cx="200.6" cy="203.85" r="1.4" stroke="#c0354f" stroke-width="0.65" fill="#fff"/>
<circle cx="198.1" cy="205.32" r="1.4" stroke="#c0354f" stroke-width="0.65" fill="#fff"/>
<circle cx="196.1" cy="206.37" r="1.4" stroke="#c0354f" stroke-width="0.65" fill="#fff"/>
<circle cx="199.6" cy="207.63" r="1.4" stroke="#c0354f" stroke-width="0.65" fill="#fff"/>
<rect x="207.6" y="269.18960000000004" width="9.2" height="16.61039999999997" fill="#c2c8e6" />
<line x1="212.2" y1="247.04240000000001" x2="212.2" y2="269.18960000000004" stroke="#3b6690" stroke-width="0.8"/>
<line x1="210.39999999999998" y1="247.04240000000001" x2="214.0" y2="247.04240000000001" stroke="#3b6690" stroke-width="0.8"/>
<circle cx="211.39999999999998" cy="230.8934" r="1.4" stroke="#3b6690" stroke-width="0.65" fill="#fff"/>
<circle cx="214.0" cy="232.0469" r="1.4" stroke="#3b6690" stroke-width="0.65" fill="#fff"/>
<circle cx="212.2" cy="249.8108" r="1.4" stroke="#3b6690" stroke-width="0.65" fill="#fff"/>
<circle cx="212.2" cy="262.73" r="1.4" stroke="#3b6690" stroke-width="0.65" fill="#fff"/>
<circle cx="212.2" cy="265.03700000000003" r="1.4" stroke="#3b6690" stroke-width="0.65" fill="#fff"/>
<circle cx="212.2" cy="269.651" r="1.4" stroke="#3b6690" stroke-width="0.65" fill="#fff"/>
<circle cx="209.7" cy="276.11060000000003" r="1.4" stroke="#3b6690" stroke-width="0.65" fill="#fff"/>
<circle cx="214.7" cy="279.8018" r="1.4" stroke="#3b6690" stroke-width="0.65" fill="#fff"/>
<circle cx="209.2" cy="283.0316" r="1.4" stroke="#3b6690" stroke-width="0.65" fill="#fff"/>
<circle cx="215.2" cy="284.8772" r="1.4" stroke="#3b6690" stroke-width="0.65" fill="#fff"/>
<circle cx="210.7" cy="285.8" r="1.4" stroke="#3b6690" stroke-width="0.65" fill="#fff"/>
<circle cx="213.7" cy="285.8" r="1.4" stroke="#3b6690" stroke-width="0.65" fill="#fff"/>
<rect x="222.20000000000002" y="285.10790000000003" width="8.4" height="0.6920999999999822" fill="#fcdcaa" />
<line x1="226.4" y1="284.4158" x2="226.4" y2="285.10790000000003" stroke="#f0a540" stroke-width="0.8"/>
<line x1="224.6" y1="284.4158" x2="228.20000000000002" y2="284.4158" stroke="#f0a540" stroke-width="0.8"/>
<circle cx="226.4" cy="283.0316" r="1.4" stroke="#f0a540" stroke-width="0.65" fill="#fff"/>
<circle cx="224.4" cy="284.8772" r="1.4" stroke="#f0a540" stroke-width="0.65" fill="#fff"/>
<circle cx="228.4" cy="285.5693" r="1.4" stroke="#f0a540" stroke-width="0.65" fill="#fff"/>
<circle cx="223.4" cy="285.8" r="1.4" stroke="#f0a540" stroke-width="0.65" fill="#fff"/>
<circle cx="229.4" cy="285.8" r="1.4" stroke="#f0a540" stroke-width="0.65" fill="#fff"/>
<rect x="236.20000000000002" y="271.4966" width="9.2" height="14.30340000000001" fill="#cde8c6" />
<line x1="240.8" y1="247.04240000000001" x2="240.8" y2="271.4966" stroke="#5fae62" stroke-width="0.8"/>
<line x1="239.0" y1="247.04240000000001" x2="242.60000000000002" y2="247.04240000000001" stroke="#5fae62" stroke-width="0.8"/>
<circle cx="240.8" cy="216.59000000000003" r="1.4" stroke="#5fae62" stroke-width="0.65" fill="#fff"/>
<circle cx="240.8" cy="237.353" r="1.4" stroke="#5fae62" stroke-width="0.65" fill="#fff"/>
<circle cx="240.8" cy="251.65640000000002" r="1.4" stroke="#5fae62" stroke-width="0.65" fill="#fff"/>
<circle cx="240.8" cy="276.572" r="1.4" stroke="#5fae62" stroke-width="0.65" fill="#fff"/>
<circle cx="238.8" cy="281.18600000000004" r="1.4" stroke="#5fae62" stroke-width="0.65" fill="#fff"/>
<circle cx="242.8" cy="283.7237" r="1.4" stroke="#5fae62" stroke-width="0.65" fill="#fff"/>
<circle cx="237.8" cy="285.8" r="1.4" stroke="#5fae62" stroke-width="0.65" fill="#fff"/>
<circle cx="240.8" cy="285.8" r="1.4" stroke="#5fae62" stroke-width="0.65" fill="#fff"/>
<circle cx="243.8" cy="285.8" r="1.4" stroke="#5fae62" stroke-width="0.65" fill="#fff"/>
<line x1="187.8" y1="285.8" x2="249.5" y2="285.8" stroke="#231f20" stroke-width="1.4"/>
<line x1="198.1" y1="285.8" x2="198.1" y2="288.8" stroke="#231f20" stroke-width="0.9"/>
<line x1="212.2" y1="285.8" x2="212.2" y2="288.8" stroke="#231f20" stroke-width="0.9"/>
<line x1="226.4" y1="285.8" x2="226.4" y2="288.8" stroke="#231f20" stroke-width="0.9"/>
<line x1="240.8" y1="285.8" x2="240.8" y2="288.8" stroke="#231f20" stroke-width="0.9"/>
<line x1="212.6" y1="221.9" x2="226.9" y2="221.9" stroke="#231f20" stroke-width="1.25"/>
<path d="M219.75,217.30 L219.75,215.75 M219.75,217.30 L221.22,216.82 M219.75,217.30 L220.66,218.55 M219.75,217.30 L218.84,218.55 M219.75,217.30 L218.28,216.82 " stroke="#231f20" stroke-width="0.95" fill="none" stroke-linecap="round"/>
<line x1="226.5" y1="208.8" x2="241.2" y2="208.8" stroke="#231f20" stroke-width="1.25"/>
<path d="M233.85,204.20 L233.85,202.65 M233.85,204.20 L235.32,203.72 M233.85,204.20 L234.76,205.45 M233.85,204.20 L232.94,205.45 M233.85,204.20 L232.38,203.72 " stroke="#231f20" stroke-width="0.95" fill="none" stroke-linecap="round"/>
<text x="138.6" y="285.1" font-size="9.9" fill="#231f20" stroke="#231f20" stroke-width="0.07" textLength="93.9" lengthAdjust="spacingAndGlyphs" transform="rotate(-90 138.6 285.1)">hCD33<tspan dy="-3.6" font-size="6.8">+</tspan><tspan dy="3.6">​</tspan> cell number/BM</text>
<text x="149.8" y="250.2" font-size="9.6" fill="#231f20" stroke="#231f20" stroke-width="0.07" textLength="26.3" lengthAdjust="spacingAndGlyphs" transform="rotate(-90 149.8 250.2)">( ×10<tspan dy="-3.5" font-size="6.6">3</tspan><tspan dy="3.5">​</tspan>)</text>
<text x="88.9" y="310.1" font-size="10.2" fill="#231f20" stroke="#231f20" stroke-width="0.07" textLength="79.1" lengthAdjust="spacingAndGlyphs">Peripheral blood</text>
<line x1="51.2" y1="321.4" x2="51.2" y2="342.2" stroke="#231f20" stroke-width="1.35"/>
<line x1="48.0" y1="324.3" x2="51.2" y2="324.3" stroke="#231f20" stroke-width="0.9"/>
<text x="44.6" y="327.2" font-size="8.5" fill="#231f20" stroke="#231f20" stroke-width="0.07" text-anchor="end">20</text>
<line x1="48.0" y1="334.3" x2="51.2" y2="334.3" stroke="#231f20" stroke-width="0.9"/>
<text x="44.6" y="337.2" font-size="8.5" fill="#231f20" stroke="#231f20" stroke-width="0.07" text-anchor="end">10</text>
<line x1="49.0" y1="342.2" x2="53.400000000000006" y2="342.2" stroke="#231f20" stroke-width="0.9"/>
<line x1="51.2" y1="349.2" x2="51.2" y2="417.7" stroke="#231f20" stroke-width="1.35"/>
<line x1="48.0" y1="349.2" x2="51.2" y2="349.2" stroke="#231f20" stroke-width="0.9"/>
<text x="44.6" y="352.09999999999997" font-size="8.5" fill="#231f20" stroke="#231f20" stroke-width="0.07" text-anchor="end">2.0</text>
<line x1="48.0" y1="366.325" x2="51.2" y2="366.325" stroke="#231f20" stroke-width="0.9"/>
<text x="44.6" y="369.22499999999997" font-size="8.5" fill="#231f20" stroke="#231f20" stroke-width="0.07" text-anchor="end">1.5</text>
<line x1="48.0" y1="383.45" x2="51.2" y2="383.45" stroke="#231f20" stroke-width="0.9"/>
<text x="44.6" y="386.34999999999997" font-size="8.5" fill="#231f20" stroke="#231f20" stroke-width="0.07" text-anchor="end">1.0</text>
<line x1="48.0" y1="400.575" x2="51.2" y2="400.575" stroke="#231f20" stroke-width="0.9"/>
<text x="44.6" y="403.47499999999997" font-size="8.5" fill="#231f20" stroke="#231f20" stroke-width="0.07" text-anchor="end">0.5</text>
<line x1="48.0" y1="417.7" x2="51.2" y2="417.7" stroke="#231f20" stroke-width="0.9"/>
<text x="44.6" y="420.59999999999997" font-size="8.5" fill="#231f20" stroke="#231f20" stroke-width="0.07" text-anchor="end">0.0</text>
<line x1="49.0" y1="349.2" x2="53.400000000000006" y2="349.2" stroke="#231f20" stroke-width="0.9"/>
<rect x="56.3" y="349.2" width="9.0" height="68.5" fill="#eeb3a4" />
<line x1="60.8" y1="331.8" x2="60.8" y2="337.8" stroke="#c0354f" stroke-width="0.7"/>
<line x1="59" y1="331.8" x2="62.6" y2="331.8" stroke="#c0354f" stroke-width="0.7"/>
<line x1="59" y1="337.8" x2="62.6" y2="337.8" stroke="#c0354f" stroke-width="0.7"/>
<circle cx="60.8" cy="328.7" r="1.4" stroke="#c0354f" stroke-width="0.65" fill="#fff"/>
<circle cx="58.8" cy="335.0" r="1.4" stroke="#c0354f" stroke-width="0.65" fill="#fff"/>
<circle cx="63.3" cy="335.0" r="1.4" stroke="#c0354f" stroke-width="0.65" fill="#fff"/>
<circle cx="57.5" cy="338.1" r="1.4" stroke="#c0354f" stroke-width="0.65" fill="#fff"/>
<circle cx="64.5" cy="338.1" r="1.4" stroke="#c0354f" stroke-width="0.65" fill="#fff"/>
<circle cx="61.3" cy="339.5" r="1.4" stroke="#c0354f" stroke-width="0.65" fill="#fff"/>
<circle cx="58.8" cy="340.6" r="1.4" stroke="#c0354f" stroke-width="0.65" fill="#fff"/>
<circle cx="62.599999999999994" cy="340.6" r="1.4" stroke="#c0354f" stroke-width="0.65" fill="#fff"/>
<circle cx="64.8" cy="340.8" r="1.4" stroke="#c0354f" stroke-width="0.65" fill="#fff"/>
<circle cx="60.8" cy="349.2" r="1.4" stroke="#c0354f" stroke-width="0.65" fill="#fff"/>
<rect x="70.60000000000001" y="398.1775" width="9.2" height="19.52249999999998" fill="#c2c8e6" />
<line x1="75.2" y1="385.505" x2="75.2" y2="398.1775" stroke="#3b6690" stroke-width="0.8"/>
<line x1="73.4" y1="385.505" x2="77.0" y2="385.505" stroke="#3b6690" stroke-width="0.8"/>
<circle cx="75.2" cy="376.2575" r="1.4" stroke="#3b6690" stroke-width="0.65" fill="#fff"/>
<circle cx="75.2" cy="382.4225" r="1.4" stroke="#3b6690" stroke-width="0.65" fill="#fff"/>
<circle cx="73.7" cy="388.93" r="1.4" stroke="#3b6690" stroke-width="0.65" fill="#fff"/>
<circle cx="76.7" cy="390.3" r="1.4" stroke="#3b6690" stroke-width="0.65" fill="#fff"/>
<circle cx="75.2" cy="393.72499999999997" r="1.4" stroke="#3b6690" stroke-width="0.65" fill="#fff"/>
<circle cx="75.2" cy="397.15" r="1.4" stroke="#3b6690" stroke-width="0.65" fill="#fff"/>
<circle cx="75.2" cy="400.575" r="1.4" stroke="#3b6690" stroke-width="0.65" fill="#fff"/>
<circle cx="75.2" cy="404.0" r="1.4" stroke="#3b6690" stroke-width="0.65" fill="#fff"/>
<circle cx="75.2" cy="406.74" r="1.4" stroke="#3b6690" stroke-width="0.65" fill="#fff"/>
<circle cx="75.2" cy="409.48" r="1.4" stroke="#3b6690" stroke-width="0.65" fill="#fff"/>
<circle cx="72.0" cy="411.53499999999997" r="1.4" stroke="#3b6690" stroke-width="0.65" fill="#fff"/>
<circle cx="78.4" cy="411.53499999999997" r="1.4" stroke="#3b6690" stroke-width="0.65" fill="#fff"/>
<circle cx="75.2" cy="414.275" r="1.4" stroke="#3b6690" stroke-width="0.65" fill="#fff"/>
<rect x="85.0" y="405.0275" width="9.2" height="12.672500000000014" fill="#fcdcaa" />
<line x1="89.6" y1="396.1225" x2="89.6" y2="405.0275" stroke="#f0a540" stroke-width="0.8"/>
<line x1="87.8" y1="396.1225" x2="91.39999999999999" y2="396.1225" stroke="#f0a540" stroke-width="0.8"/>
<circle cx="87.1" cy="391.3275" r="1.4" stroke="#f0a540" stroke-width="0.65" fill="#fff"/>
<circle cx="92.1" cy="391.3275" r="1.4" stroke="#f0a540" stroke-width="0.65" fill="#fff"/>
<circle cx="89.6" cy="397.15" r="1.4" stroke="#f0a540" stroke-width="0.65" fill="#fff"/>
<circle cx="86.6" cy="404.0" r="1.4" stroke="#f0a540" stroke-width="0.65" fill="#fff"/>
<circle cx="92.6" cy="404.685" r="1.4" stroke="#f0a540" stroke-width="0.65" fill="#fff"/>
<circle cx="89.6" cy="407.425" r="1.4" stroke="#f0a540" stroke-width="0.65" fill="#fff"/>
<circle cx="86.6" cy="409.1375" r="1.4" stroke="#f0a540" stroke-width="0.65" fill="#fff"/>
<circle cx="92.6" cy="410.16499999999996" r="1.4" stroke="#f0a540" stroke-width="0.65" fill="#fff"/>
<circle cx="88.1" cy="412.5625" r="1.4" stroke="#f0a540" stroke-width="0.65" fill="#fff"/>
<circle cx="91.1" cy="413.59" r="1.4" stroke="#f0a540" stroke-width="0.65" fill="#fff"/>
<circle cx="89.6" cy="415.645" r="1.4" stroke="#f0a540" stroke-width="0.65" fill="#fff"/>
<rect x="99.55" y="400.23249999999996" width="9.3" height="17.46750000000003" fill="#cde8c6" />
<line x1="104.2" y1="380.71" x2="104.2" y2="400.23249999999996" stroke="#5fae62" stroke-width="0.8"/>
<line x1="102.4" y1="380.71" x2="106.0" y2="380.71" stroke="#5fae62" stroke-width="0.8"/>
<circle cx="104.2" cy="374.8875" r="1.4" stroke="#5fae62" stroke-width="0.65" fill="#fff"/>
<circle cx="104.2" cy="395.09499999999997" r="1.4" stroke="#5fae62" stroke-width="0.65" fill="#fff"/>
<circle cx="101.2" cy="399.89" r="1.4" stroke="#5fae62" stroke-width="0.65" fill="#fff"/>
<circle cx="107.2" cy="399.89" r="1.4" stroke="#5fae62" stroke-width="0.65" fill="#fff"/>
<circle cx="101.2" cy="404.685" r="1.4" stroke="#5fae62" stroke-width="0.65" fill="#fff"/>
<circle cx="107.2" cy="404.685" r="1.4" stroke="#5fae62" stroke-width="0.65" fill="#fff"/>
<circle cx="101.2" cy="409.1375" r="1.4" stroke="#5fae62" stroke-width="0.65" fill="#fff"/>
<circle cx="107.2" cy="409.1375" r="1.4" stroke="#5fae62" stroke-width="0.65" fill="#fff"/>
<circle cx="101.2" cy="413.59" r="1.4" stroke="#5fae62" stroke-width="0.65" fill="#fff"/>
<circle cx="107.2" cy="413.59" r="1.4" stroke="#5fae62" stroke-width="0.65" fill="#fff"/>
<circle cx="104.2" cy="356.735" r="1.5" stroke="#9ccf94" stroke-width="0.6" fill="#9ccf94"/>
<line x1="50.6" y1="417.7" x2="114" y2="417.7" stroke="#231f20" stroke-width="1.4"/>
<line x1="60.8" y1="417.7" x2="60.8" y2="420.7" stroke="#231f20" stroke-width="0.9"/>
<line x1="75.2" y1="417.7" x2="75.2" y2="420.7" stroke="#231f20" stroke-width="0.9"/>
<line x1="89.6" y1="417.7" x2="89.6" y2="420.7" stroke="#231f20" stroke-width="0.9"/>
<line x1="104.2" y1="417.7" x2="104.2" y2="420.7" stroke="#231f20" stroke-width="0.9"/>
<text x="26.3" y="394.6" font-size="10.8" fill="#231f20" stroke="#231f20" stroke-width="0.07" textLength="41.8" lengthAdjust="spacingAndGlyphs" transform="rotate(-90 26.3 394.6)">% of hCD33</text>
<text x="23.0" y="351.90000000000003" font-size="6.6" fill="#231f20" stroke="#231f20" stroke-width="0.07" transform="rotate(-90 23.0 351.90000000000003)">+</text>
<line x1="178.8" y1="321.9" x2="178.8" y2="341.8" stroke="#231f20" stroke-width="1.35"/>
<line x1="175.60000000000002" y1="324.5" x2="178.8" y2="324.5" stroke="#231f20" stroke-width="0.9"/>
<text x="172.1" y="327.4" font-size="8.5" fill="#231f20" stroke="#231f20" stroke-width="0.07" text-anchor="end">250</text>
<line x1="175.60000000000002" y1="334.2" x2="178.8" y2="334.2" stroke="#231f20" stroke-width="0.9"/>
<text x="172.1" y="337.09999999999997" font-size="8.5" fill="#231f20" stroke="#231f20" stroke-width="0.07" text-anchor="end">150</text>
<line x1="176.60000000000002" y1="341.8" x2="181.0" y2="341.8" stroke="#231f20" stroke-width="0.9"/>
<line x1="178.8" y1="349.2" x2="178.8" y2="418" stroke="#231f20" stroke-width="1.35"/>
<line x1="175.60000000000002" y1="358.6" x2="178.8" y2="358.6" stroke="#231f20" stroke-width="0.9"/>
<text x="172.1" y="361.5" font-size="8.5" fill="#231f20" stroke="#231f20" stroke-width="0.07" text-anchor="end">60</text>
<line x1="175.60000000000002" y1="378.4" x2="178.8" y2="378.4" stroke="#231f20" stroke-width="0.9"/>
<text x="172.1" y="381.29999999999995" font-size="8.5" fill="#231f20" stroke="#231f20" stroke-width="0.07" text-anchor="end">40</text>
<line x1="175.60000000000002" y1="398.2" x2="178.8" y2="398.2" stroke="#231f20" stroke-width="0.9"/>
<text x="172.1" y="401.09999999999997" font-size="8.5" fill="#231f20" stroke="#231f20" stroke-width="0.07" text-anchor="end">20</text>
<line x1="175.60000000000002" y1="418.0" x2="178.8" y2="418.0" stroke="#231f20" stroke-width="0.9"/>
<text x="172.1" y="420.9" font-size="8.5" fill="#231f20" stroke="#231f20" stroke-width="0.07" text-anchor="end">0</text>
<line x1="176.60000000000002" y1="349.2" x2="181.0" y2="349.2" stroke="#231f20" stroke-width="0.9"/>
<rect x="183.7" y="348.7" width="8.8" height="69.30000000000001" fill="#eeb3a4" />
<line x1="188.1" y1="330.805" x2="188.1" y2="336.625" stroke="#c0354f" stroke-width="0.7"/>
<line x1="186.3" y1="330.805" x2="189.9" y2="330.805" stroke="#c0354f" stroke-width="0.7"/>
<line x1="186.3" y1="336.625" x2="189.9" y2="336.625" stroke="#c0354f" stroke-width="0.7"/>
<circle cx="185.9" cy="329.835" r="1.4" stroke="#c0354f" stroke-width="0.65" fill="#fff"/>
<circle cx="190.1" cy="329.544" r="1.4" stroke="#c0354f" stroke-width="0.65" fill="#fff"/>
<circle cx="185.1" cy="338.08" r="1.4" stroke="#c0354f" stroke-width="0.65" fill="#fff"/>
<circle cx="188.6" cy="338.565" r="1.4" stroke="#c0354f" stroke-width="0.65" fill="#fff"/>
<circle cx="191.6" cy="339.05" r="1.4" stroke="#c0354f" stroke-width="0.65" fill="#fff"/>
<circle cx="186.6" cy="340.505" r="1.4" stroke="#c0354f" stroke-width="0.65" fill="#fff"/>
<circle cx="190.1" cy="340.99" r="1.4" stroke="#c0354f" stroke-width="0.65" fill="#fff"/>
<circle cx="184.9" cy="341.47499999999997" r="1.4" stroke="#c0354f" stroke-width="0.65" fill="#fff"/>
<circle cx="191.6" cy="341.76599999999996" r="1.4" stroke="#c0354f" stroke-width="0.65" fill="#fff"/>
<rect x="198.10000000000002" y="396.22" width="9.4" height="21.779999999999973" fill="#c2c8e6" />
<line x1="202.8" y1="386.617" x2="202.8" y2="396.22" stroke="#3b6690" stroke-width="0.8"/>
<line x1="201.0" y1="386.617" x2="204.60000000000002" y2="386.617" stroke="#3b6690" stroke-width="0.8"/>
<circle cx="202.8" cy="376.42" r="1.4" stroke="#3b6690" stroke-width="0.65" fill="#fff"/>
<circle cx="200.5" cy="386.815" r="1.4" stroke="#3b6690" stroke-width="0.65" fill="#fff"/>
<circle cx="205.10000000000002" cy="386.815" r="1.4" stroke="#3b6690" stroke-width="0.65" fill="#fff"/>
<circle cx="200.5" cy="393.25" r="1.4" stroke="#3b6690" stroke-width="0.65" fill="#fff"/>
<circle cx="205.10000000000002" cy="393.25" r="1.4" stroke="#3b6690" stroke-width="0.65" fill="#fff"/>
<circle cx="202.8" cy="397.21" r="1.4" stroke="#3b6690" stroke-width="0.65" fill="#fff"/>
<circle cx="199.8" cy="399.19" r="1.4" stroke="#3b6690" stroke-width="0.65" fill="#fff"/>
<circle cx="205.8" cy="399.19" r="1.4" stroke="#3b6690" stroke-width="0.65" fill="#fff"/>
<circle cx="202.8" cy="401.665" r="1.4" stroke="#3b6690" stroke-width="0.65" fill="#fff"/>
<circle cx="199.8" cy="403.645" r="1.4" stroke="#3b6690" stroke-width="0.65" fill="#fff"/>
<circle cx="205.8" cy="403.645" r="1.4" stroke="#3b6690" stroke-width="0.65" fill="#fff"/>
<circle cx="202.8" cy="406.12" r="1.4" stroke="#3b6690" stroke-width="0.65" fill="#fff"/>
<rect x="212.60000000000002" y="404.635" width="9.4" height="13.365000000000009" fill="#fcdcaa" />
<line x1="217.3" y1="386.617" x2="217.3" y2="404.635" stroke="#f0a540" stroke-width="0.8"/>
<line x1="215.5" y1="386.617" x2="219.10000000000002" y2="386.617" stroke="#f0a540" stroke-width="0.8"/>
<circle cx="217.3" cy="356.62" r="1.4" stroke="#f0a540" stroke-width="0.65" fill="#fff"/>
<circle cx="217.3" cy="387.31" r="1.4" stroke="#f0a540" stroke-width="0.65" fill="#fff"/>
<circle cx="215.8" cy="396.22" r="1.4" stroke="#f0a540" stroke-width="0.65" fill="#fff"/>
<circle cx="218.8" cy="400.18" r="1.4" stroke="#f0a540" stroke-width="0.65" fill="#fff"/>
<circle cx="214.3" cy="403.15" r="1.4" stroke="#f0a540" stroke-width="0.65" fill="#fff"/>
<circle cx="220.3" cy="406.12" r="1.4" stroke="#f0a540" stroke-width="0.65" fill="#fff"/>
<circle cx="217.3" cy="408.1" r="1.4" stroke="#f0a540" stroke-width="0.65" fill="#fff"/>
<circle cx="215.3" cy="411.07" r="1.4" stroke="#f0a540" stroke-width="0.65" fill="#fff"/>
<circle cx="219.3" cy="413.05" r="1.4" stroke="#f0a540" stroke-width="0.65" fill="#fff"/>
<circle cx="216.3" cy="415.03" r="1.4" stroke="#f0a540" stroke-width="0.65" fill="#fff"/>
<circle cx="218.3" cy="416.515" r="1.4" stroke="#f0a540" stroke-width="0.65" fill="#fff"/>
<rect x="227.1" y="400.18" width="9.2" height="17.819999999999993" fill="#cde8c6" />
<line x1="231.7" y1="394.735" x2="231.7" y2="400.18" stroke="#5fae62" stroke-width="0.8"/>
<line x1="229.89999999999998" y1="394.735" x2="233.5" y2="394.735" stroke="#5fae62" stroke-width="0.8"/>
<circle cx="231.7" cy="386.32" r="1.4" stroke="#5fae62" stroke-width="0.65" fill="#fff"/>
<circle cx="230.2" cy="393.25" r="1.4" stroke="#5fae62" stroke-width="0.65" fill="#fff"/>
<circle cx="233.2" cy="396.22" r="1.4" stroke="#5fae62" stroke-width="0.65" fill="#fff"/>
<circle cx="228.7" cy="398.2" r="1.4" stroke="#5fae62" stroke-width="0.65" fill="#fff"/>
<circle cx="234.7" cy="400.18" r="1.4" stroke="#5fae62" stroke-width="0.65" fill="#fff"/>
<circle cx="231.7" cy="403.15" r="1.4" stroke="#5fae62" stroke-width="0.65" fill="#fff"/>
<circle cx="229.7" cy="406.12" r="1.4" stroke="#5fae62" stroke-width="0.65" fill="#fff"/>
<circle cx="233.7" cy="408.1" r="1.4" stroke="#5fae62" stroke-width="0.65" fill="#fff"/>
<circle cx="228.7" cy="410.08" r="1.4" stroke="#5fae62" stroke-width="0.65" fill="#fff"/>
<circle cx="234.7" cy="413.05" r="1.4" stroke="#5fae62" stroke-width="0.65" fill="#fff"/>
<circle cx="231.7" cy="415.03" r="1.4" stroke="#5fae62" stroke-width="0.65" fill="#fff"/>
<line x1="178.20000000000002" y1="418" x2="241.5" y2="418" stroke="#231f20" stroke-width="1.4"/>
<line x1="188.1" y1="418" x2="188.1" y2="421" stroke="#231f20" stroke-width="0.9"/>
<line x1="202.8" y1="418" x2="202.8" y2="421" stroke="#231f20" stroke-width="0.9"/>
<line x1="217.3" y1="418" x2="217.3" y2="421" stroke="#231f20" stroke-width="0.9"/>
<line x1="231.7" y1="418" x2="231.7" y2="421" stroke="#231f20" stroke-width="0.9"/>
<text x="138.4" y="415.1" font-size="9.9" fill="#231f20" stroke="#231f20" stroke-width="0.07" textLength="89.4" lengthAdjust="spacingAndGlyphs" transform="rotate(-90 138.4 415.1)">hCD33<tspan dy="-3.6" font-size="6.8">+</tspan><tspan dy="3.6">​</tspan> cell number/µl</text>
<text x="150.6" y="379.8" font-size="9.6" fill="#231f20" stroke="#231f20" stroke-width="0.07" textLength="19.6" lengthAdjust="spacingAndGlyphs" transform="rotate(-90 150.6 379.8)">blood</text>
<text x="382.3" y="159.8" font-size="10.2" fill="#231f20" stroke="#231f20" stroke-width="0.07" textLength="31.5" lengthAdjust="spacingAndGlyphs">Spleen</text>
<line x1="320.9" y1="189.9" x2="320.9" y2="209.1" stroke="#231f20" stroke-width="1.35"/>
<line x1="317.7" y1="192.6" x2="320.9" y2="192.6" stroke="#231f20" stroke-width="0.9"/>
<text x="313.6" y="195.5" font-size="8.5" fill="#231f20" stroke="#231f20" stroke-width="0.07" text-anchor="end">50</text>
<line x1="317.7" y1="200.6" x2="320.9" y2="200.6" stroke="#231f20" stroke-width="0.9"/>
<text x="313.6" y="203.5" font-size="8.5" fill="#231f20" stroke="#231f20" stroke-width="0.07" text-anchor="end">30</text>
<line x1="317.7" y1="208.6" x2="320.9" y2="208.6" stroke="#231f20" stroke-width="0.9"/>
<text x="313.6" y="211.5" font-size="8.5" fill="#231f20" stroke="#231f20" stroke-width="0.07" text-anchor="end">10</text>
<line x1="318.7" y1="209.1" x2="323.09999999999997" y2="209.1" stroke="#231f20" stroke-width="0.9"/>
<line x1="320.9" y1="217.4" x2="320.9" y2="286.25" stroke="#231f20" stroke-width="1.35"/>
<line x1="317.7" y1="217.43" x2="320.9" y2="217.43" stroke="#231f20" stroke-width="0.9"/>
<text x="313.6" y="220.33" font-size="8.5" fill="#231f20" stroke="#231f20" stroke-width="0.07" text-anchor="end">6</text>
<line x1="317.7" y1="240.37" x2="320.9" y2="240.37" stroke="#231f20" stroke-width="0.9"/>
<text x="313.6" y="243.27" font-size="8.5" fill="#231f20" stroke="#231f20" stroke-width="0.07" text-anchor="end">4</text>
<line x1="317.7" y1="263.31" x2="320.9" y2="263.31" stroke="#231f20" stroke-width="0.9"/>
<text x="313.6" y="266.21" font-size="8.5" fill="#231f20" stroke="#231f20" stroke-width="0.07" text-anchor="end">2</text>
<line x1="317.7" y1="286.25" x2="320.9" y2="286.25" stroke="#231f20" stroke-width="0.9"/>
<text x="313.6" y="289.15" font-size="8.5" fill="#231f20" stroke="#231f20" stroke-width="0.07" text-anchor="end">0</text>
<line x1="318.7" y1="217.4" x2="323.09999999999997" y2="217.4" stroke="#231f20" stroke-width="0.9"/>
<rect x="326.1" y="206.2" width="8.7" height="2.9000000000000057" fill="#eeb3a4" />
<rect x="326.1" y="217.4" width="8.7" height="68.85" fill="#eeb3a4" />
<line x1="330.4" y1="203.0" x2="330.4" y2="208" stroke="#c0354f" stroke-width="0.7"/>
<line x1="328.6" y1="203.0" x2="332.2" y2="203.0" stroke="#c0354f" stroke-width="0.7"/>
<circle cx="331.59999999999997" cy="199.4" r="1.4" stroke="#c0354f" stroke-width="0.65" fill="#fff"/>
<circle cx="329.79999999999995" cy="201.79999999999998" r="1.4" stroke="#c0354f" stroke-width="0.65" fill="#fff"/>
<circle cx="332.2" cy="203.79999999999998" r="1.4" stroke="#c0354f" stroke-width="0.65" fill="#fff"/>
<circle cx="328.2" cy="205.0" r="1.4" stroke="#c0354f" stroke-width="0.65" fill="#fff"/>
<circle cx="333.0" cy="205.79999999999998" r="1.4" stroke="#c0354f" stroke-width="0.65" fill="#fff"/>
<circle cx="327.4" cy="206.6" r="1.4" stroke="#c0354f" stroke-width="0.65" fill="#fff"/>
<circle cx="330.9" cy="207.4" r="1.4" stroke="#c0354f" stroke-width="0.65" fill="#fff"/>
<circle cx="333.59999999999997" cy="208.2" r="1.4" stroke="#c0354f" stroke-width="0.65" fill="#fff"/>
<circle cx="328.79999999999995" cy="208.79999999999998" r="1.4" stroke="#c0354f" stroke-width="0.65" fill="#fff"/>
<circle cx="331.79999999999995" cy="209.4" r="1.4" stroke="#c0354f" stroke-width="0.65" fill="#fff"/>
<rect x="340.20000000000005" y="267.898" width="8.8" height="18.351999999999975" fill="#c2c8e6" />
<line x1="344.6" y1="246.105" x2="344.6" y2="267.898" stroke="#3b6690" stroke-width="0.8"/>
<line x1="342.8" y1="246.105" x2="346.40000000000003" y2="246.105" stroke="#3b6690" stroke-width="0.8"/>
<circle cx="344.6" cy="222.018" r="1.4" stroke="#3b6690" stroke-width="0.65" fill="#fff"/>
<circle cx="344.6" cy="230.047" r="1.4" stroke="#3b6690" stroke-width="0.65" fill="#fff"/>
<circle cx="344.6" cy="261.016" r="1.4" stroke="#3b6690" stroke-width="0.65" fill="#fff"/>
<circle cx="342.6" cy="268.4715" r="1.4" stroke="#3b6690" stroke-width="0.65" fill="#fff"/>
<circle cx="346.6" cy="271.339" r="1.4" stroke="#3b6690" stroke-width="0.65" fill="#fff"/>
<circle cx="341.6" cy="273.633" r="1.4" stroke="#3b6690" stroke-width="0.65" fill="#fff"/>
<circle cx="347.6" cy="276.5005" r="1.4" stroke="#3b6690" stroke-width="0.65" fill="#fff"/>
<circle cx="343.1" cy="279.368" r="1.4" stroke="#3b6690" stroke-width="0.65" fill="#fff"/>
<circle cx="346.1" cy="281.0885" r="1.4" stroke="#3b6690" stroke-width="0.65" fill="#fff"/>
<circle cx="341.6" cy="282.809" r="1.4" stroke="#3b6690" stroke-width="0.65" fill="#fff"/>
<circle cx="347.6" cy="284.5295" r="1.4" stroke="#3b6690" stroke-width="0.65" fill="#fff"/>
<rect x="354.5" y="281.0885" width="9.0" height="5.1614999999999895" fill="#fcdcaa" />
<line x1="359.0" y1="274.78" x2="359.0" y2="281.0885" stroke="#f0a540" stroke-width="0.8"/>
<line x1="357.2" y1="274.78" x2="360.8" y2="274.78" stroke="#f0a540" stroke-width="0.8"/>
<circle cx="359.0" cy="264.457" r="1.4" stroke="#f0a540" stroke-width="0.65" fill="#fff"/>
<circle cx="359.0" cy="275.927" r="1.4" stroke="#f0a540" stroke-width="0.65" fill="#fff"/>
<circle cx="357.0" cy="280.515" r="1.4" stroke="#f0a540" stroke-width="0.65" fill="#fff"/>
<circle cx="361.0" cy="282.2355" r="1.4" stroke="#f0a540" stroke-width="0.65" fill="#fff"/>
<circle cx="356.0" cy="283.956" r="1.4" stroke="#f0a540" stroke-width="0.65" fill="#fff"/>
<circle cx="362.0" cy="284.8736" r="1.4" stroke="#f0a540" stroke-width="0.65" fill="#fff"/>
<circle cx="359.0" cy="285.6765" r="1.4" stroke="#f0a540" stroke-width="0.65" fill="#fff"/>
<rect x="368.8" y="279.368" width="8.8" height="6.882000000000005" fill="#cde8c6" />
<line x1="373.2" y1="263.31" x2="373.2" y2="279.368" stroke="#5fae62" stroke-width="0.8"/>
<line x1="371.4" y1="263.31" x2="375.0" y2="263.31" stroke="#5fae62" stroke-width="0.8"/>
<circle cx="373.2" cy="250.69299999999998" r="1.4" stroke="#5fae62" stroke-width="0.65" fill="#fff"/>
<circle cx="373.2" cy="263.31" r="1.4" stroke="#5fae62" stroke-width="0.65" fill="#fff"/>
<circle cx="371.2" cy="274.78" r="1.4" stroke="#5fae62" stroke-width="0.65" fill="#fff"/>
<circle cx="375.2" cy="279.368" r="1.4" stroke="#5fae62" stroke-width="0.65" fill="#fff"/>
<circle cx="370.2" cy="280.515" r="1.4" stroke="#5fae62" stroke-width="0.65" fill="#fff"/>
<circle cx="376.2" cy="282.5796" r="1.4" stroke="#5fae62" stroke-width="0.65" fill="#fff"/>
<circle cx="372.2" cy="283.956" r="1.4" stroke="#5fae62" stroke-width="0.65" fill="#fff"/>
<circle cx="374.2" cy="285.103" r="1.4" stroke="#5fae62" stroke-width="0.65" fill="#fff"/>
<line x1="320.29999999999995" y1="286.25" x2="384" y2="286.25" stroke="#231f20" stroke-width="1.4"/>
<line x1="330.4" y1="286.25" x2="330.4" y2="289.25" stroke="#231f20" stroke-width="0.9"/>
<line x1="344.6" y1="286.25" x2="344.6" y2="289.25" stroke="#231f20" stroke-width="0.9"/>
<line x1="359.0" y1="286.25" x2="359.0" y2="289.25" stroke="#231f20" stroke-width="0.9"/>
<line x1="373.2" y1="286.25" x2="373.2" y2="289.25" stroke="#231f20" stroke-width="0.9"/>
<line x1="346.3" y1="203.3" x2="377" y2="203.3" stroke="#231f20" stroke-width="1.25"/>
<path d="M359.55,198.70 L359.55,197.15 M359.55,198.70 L361.02,198.22 M359.55,198.70 L360.46,199.95 M359.55,198.70 L358.64,199.95 M359.55,198.70 L358.08,198.22 " stroke="#231f20" stroke-width="0.95" fill="none" stroke-linecap="round"/>
<path d="M363.75,198.70 L363.75,197.15 M363.75,198.70 L365.22,198.22 M363.75,198.70 L364.66,199.95 M363.75,198.70 L362.84,199.95 M363.75,198.70 L362.28,198.22 " stroke="#231f20" stroke-width="0.95" fill="none" stroke-linecap="round"/>
<line x1="346.3" y1="214.5" x2="359.5" y2="214.5" stroke="#231f20" stroke-width="1.25"/>
<path d="M348.70,209.90 L348.70,208.35 M348.70,209.90 L350.17,209.42 M348.70,209.90 L349.61,211.15 M348.70,209.90 L347.79,211.15 M348.70,209.90 L347.23,209.42 " stroke="#231f20" stroke-width="0.95" fill="none" stroke-linecap="round"/>
<path d="M352.90,209.90 L352.90,208.35 M352.90,209.90 L354.37,209.42 M352.90,209.90 L353.81,211.15 M352.90,209.90 L351.99,211.15 M352.90,209.90 L351.43,209.42 " stroke="#231f20" stroke-width="0.95" fill="none" stroke-linecap="round"/>
<path d="M357.10,209.90 L357.10,208.35 M357.10,209.90 L358.57,209.42 M357.10,209.90 L358.01,211.15 M357.10,209.90 L356.19,211.15 M357.10,209.90 L355.63,209.42 " stroke="#231f20" stroke-width="0.95" fill="none" stroke-linecap="round"/>
<text x="298.4" y="263.1" font-size="10.8" fill="#231f20" stroke="#231f20" stroke-width="0.07" textLength="40.5" lengthAdjust="spacingAndGlyphs" transform="rotate(-90 298.4 263.1)">% of hCD33</text>
<text x="295.09999999999997" y="221.70000000000002" font-size="6.6" fill="#231f20" stroke="#231f20" stroke-width="0.07" transform="rotate(-90 295.09999999999997 221.70000000000002)">+</text>
<line x1="448.3" y1="195" x2="448.3" y2="210" stroke="#231f20" stroke-width="1.35"/>
<line x1="445.1" y1="198.0" x2="448.3" y2="198.0" stroke="#231f20" stroke-width="0.9"/>
<text x="441.2" y="200.9" font-size="8.5" fill="#231f20" stroke="#231f20" stroke-width="0.07" text-anchor="end">1500</text>
<line x1="445.1" y1="207.0" x2="448.3" y2="207.0" stroke="#231f20" stroke-width="0.9"/>
<text x="441.2" y="209.9" font-size="8.5" fill="#231f20" stroke="#231f20" stroke-width="0.07" text-anchor="end">500</text>
<line x1="446.1" y1="210" x2="450.5" y2="210" stroke="#231f20" stroke-width="0.9"/>
<line x1="448.3" y1="217.2" x2="448.3" y2="286" stroke="#231f20" stroke-width="1.35"/>
<line x1="445.1" y1="217.20999999999998" x2="448.3" y2="217.20999999999998" stroke="#231f20" stroke-width="0.9"/>
<text x="441.2" y="220.10999999999999" font-size="8.5" fill="#231f20" stroke="#231f20" stroke-width="0.07" text-anchor="end">30</text>
<line x1="445.1" y1="240.14" x2="448.3" y2="240.14" stroke="#231f20" stroke-width="0.9"/>
<text x="441.2" y="243.04" font-size="8.5" fill="#231f20" stroke="#231f20" stroke-width="0.07" text-anchor="end">20</text>
<line x1="445.1" y1="263.07" x2="448.3" y2="263.07" stroke="#231f20" stroke-width="0.9"/>
<text x="441.2" y="265.96999999999997" font-size="8.5" fill="#231f20" stroke="#231f20" stroke-width="0.07" text-anchor="end">10</text>
<line x1="445.1" y1="286.0" x2="448.3" y2="286.0" stroke="#231f20" stroke-width="0.9"/>
<text x="441.2" y="288.9" font-size="8.5" fill="#231f20" stroke="#231f20" stroke-width="0.07" text-anchor="end">0</text>
<line x1="446.1" y1="217.2" x2="450.5" y2="217.2" stroke="#231f20" stroke-width="0.9"/>
<rect x="453" y="207.9" width="9" height="2.0999999999999943" fill="#eeb3a4" />
<rect x="453" y="217.2" width="9" height="68.80000000000001" fill="#eeb3a4" />
<line x1="457.5" y1="202" x2="457.5" y2="208" stroke="#c0354f" stroke-width="0.7"/>
<line x1="455.7" y1="202" x2="459.3" y2="202" stroke="#c0354f" stroke-width="0.7"/>
<circle cx="457.5" cy="194.4" r="1.4" stroke="#c0354f" stroke-width="0.65" fill="#fff"/>
<circle cx="457.5" cy="197.46" r="1.4" stroke="#c0354f" stroke-width="0.65" fill="#fff"/>
<circle cx="454.9" cy="207.72" r="1.4" stroke="#c0354f" stroke-width="0.65" fill="#fff"/>
<circle cx="460.1" cy="208.53" r="1.4" stroke="#c0354f" stroke-width="0.65" fill="#fff"/>
<circle cx="456.5" cy="209.25" r="1.4" stroke="#c0354f" stroke-width="0.65" fill="#fff"/>
<circle cx="458.9" cy="209.7" r="1.4" stroke="#c0354f" stroke-width="0.65" fill="#fff"/>
<circle cx="454.5" cy="210.06" r="1.4" stroke="#c0354f" stroke-width="0.65" fill="#fff"/>
<rect x="467.09999999999997" y="269.949" width="9.2" height="16.050999999999988" fill="#c2c8e6" />
<line x1="471.7" y1="252.0636" x2="471.7" y2="269.949" stroke="#3b6690" stroke-width="0.8"/>
<line x1="469.9" y1="252.0636" x2="473.5" y2="252.0636" stroke="#3b6690" stroke-width="0.8"/>
<circle cx="471.7" cy="232.1145" r="1.4" stroke="#3b6690" stroke-width="0.65" fill="#fff"/>
<circle cx="471.7" cy="240.14" r="1.4" stroke="#3b6690" stroke-width="0.65" fill="#fff"/>
<circle cx="471.7" cy="263.07" r="1.4" stroke="#3b6690" stroke-width="0.65" fill="#fff"/>
<circle cx="469.7" cy="269.949" r="1.4" stroke="#3b6690" stroke-width="0.65" fill="#fff"/>
<circle cx="473.7" cy="276.828" r="1.4" stroke="#3b6690" stroke-width="0.65" fill="#fff"/>
<circle cx="468.7" cy="279.121" r="1.4" stroke="#3b6690" stroke-width="0.65" fill="#fff"/>
<circle cx="474.7" cy="281.414" r="1.4" stroke="#3b6690" stroke-width="0.65" fill="#fff"/>
<circle cx="470.2" cy="283.2484" r="1.4" stroke="#3b6690" stroke-width="0.65" fill="#fff"/>
<circle cx="473.2" cy="284.6242" r="1.4" stroke="#3b6690" stroke-width="0.65" fill="#fff"/>
<rect x="481.5" y="280.4968" width="9.0" height="5.5031999999999925" fill="#fcdcaa" />
<line x1="486.0" y1="275.6815" x2="486.0" y2="280.4968" stroke="#f0a540" stroke-width="0.8"/>
<line x1="484.2" y1="275.6815" x2="487.8" y2="275.6815" stroke="#f0a540" stroke-width="0.8"/>
<circle cx="486.0" cy="261.9235" r="1.4" stroke="#f0a540" stroke-width="0.65" fill="#fff"/>
<circle cx="486.0" cy="276.828" r="1.4" stroke="#f0a540" stroke-width="0.65" fill="#fff"/>
<circle cx="484.0" cy="280.9554" r="1.4" stroke="#f0a540" stroke-width="0.65" fill="#fff"/>
<circle cx="488.0" cy="283.2484" r="1.4" stroke="#f0a540" stroke-width="0.65" fill="#fff"/>
<circle cx="483.0" cy="284.6242" r="1.4" stroke="#f0a540" stroke-width="0.65" fill="#fff"/>
<circle cx="489.0" cy="285.5414" r="1.4" stroke="#f0a540" stroke-width="0.65" fill="#fff"/>
<rect x="495.79999999999995" y="279.5796" width="9.2" height="6.420399999999972" fill="#cde8c6" />
<line x1="500.4" y1="267.656" x2="500.4" y2="279.5796" stroke="#5fae62" stroke-width="0.8"/>
<line x1="498.59999999999997" y1="267.656" x2="502.2" y2="267.656" stroke="#5fae62" stroke-width="0.8"/>
<circle cx="500.4" cy="257.3375" r="1.4" stroke="#5fae62" stroke-width="0.65" fill="#fff"/>
<circle cx="500.4" cy="259.4012" r="1.4" stroke="#5fae62" stroke-width="0.65" fill="#fff"/>
<circle cx="500.4" cy="268.1146" r="1.4" stroke="#5fae62" stroke-width="0.65" fill="#fff"/>
<circle cx="498.4" cy="279.121" r="1.4" stroke="#5fae62" stroke-width="0.65" fill="#fff"/>
<circle cx="502.4" cy="281.414" r="1.4" stroke="#5fae62" stroke-width="0.65" fill="#fff"/>
<circle cx="497.4" cy="283.2484" r="1.4" stroke="#5fae62" stroke-width="0.65" fill="#fff"/>
<circle cx="503.4" cy="284.8535" r="1.4" stroke="#5fae62" stroke-width="0.65" fill="#fff"/>
<line x1="447.7" y1="286" x2="512.5" y2="286" stroke="#231f20" stroke-width="1.4"/>
<line x1="457.5" y1="286" x2="457.5" y2="289" stroke="#231f20" stroke-width="0.9"/>
<line x1="471.7" y1="286" x2="471.7" y2="289" stroke="#231f20" stroke-width="0.9"/>
<line x1="486.0" y1="286" x2="486.0" y2="289" stroke="#231f20" stroke-width="0.9"/>
<line x1="500.4" y1="286" x2="500.4" y2="289" stroke="#231f20" stroke-width="0.9"/>
<line x1="473.8" y1="207" x2="502.5" y2="207" stroke="#231f20" stroke-width="1.25"/>
<path d="M488.15,202.40 L488.15,200.85 M488.15,202.40 L489.62,201.92 M488.15,202.40 L489.06,203.65 M488.15,202.40 L487.24,203.65 M488.15,202.40 L486.68,201.92 " stroke="#231f20" stroke-width="0.95" fill="none" stroke-linecap="round"/>
<line x1="473.8" y1="218.3" x2="487.5" y2="218.3" stroke="#231f20" stroke-width="1.25"/>
<path d="M478.55,213.70 L478.55,212.15 M478.55,213.70 L480.02,213.22 M478.55,213.70 L479.46,214.95 M478.55,213.70 L477.64,214.95 M478.55,213.70 L477.08,213.22 " stroke="#231f20" stroke-width="0.95" fill="none" stroke-linecap="round"/>
<path d="M482.75,213.70 L482.75,212.15 M482.75,213.70 L484.22,213.22 M482.75,213.70 L483.66,214.95 M482.75,213.70 L481.84,214.95 M482.75,213.70 L481.28,213.22 " stroke="#231f20" stroke-width="0.95" fill="none" stroke-linecap="round"/>
<text x="402.4" y="291.2" font-size="9.9" fill="#231f20" stroke="#231f20" stroke-width="0.07" textLength="104.5" lengthAdjust="spacingAndGlyphs" transform="rotate(-90 402.4 291.2)">hCD33<tspan dy="-3.6" font-size="6.8">+</tspan><tspan dy="3.6">​</tspan> cell number/spleen</text>
<text x="413.8" y="256" font-size="9.6" fill="#231f20" stroke="#231f20" stroke-width="0.07" textLength="31.3" lengthAdjust="spacingAndGlyphs" transform="rotate(-90 413.8 256)">( ×10<tspan dy="-3.5" font-size="6.6">4</tspan><tspan dy="3.5">​</tspan>)</text>
<line x1="62.2" y1="478.2" x2="62.2" y2="571" stroke="#231f20" stroke-width="1.35"/>
<line x1="59.1" y1="571.0" x2="62.2" y2="571.0" stroke="#231f20" stroke-width="0.9"/>
<text x="54.9" y="574.2" font-size="9.2" fill="#231f20" stroke="#231f20" stroke-width="0.07" text-anchor="end" textLength="4.55" lengthAdjust="spacingAndGlyphs">0</text>
<line x1="59.1" y1="554.08" x2="62.2" y2="554.08" stroke="#231f20" stroke-width="0.9"/>
<text x="54.9" y="557.2800000000001" font-size="9.2" fill="#231f20" stroke="#231f20" stroke-width="0.07" text-anchor="end" textLength="9.1" lengthAdjust="spacingAndGlyphs">20</text>
<line x1="59.1" y1="537.16" x2="62.2" y2="537.16" stroke="#231f20" stroke-width="0.9"/>
<text x="54.9" y="540.36" font-size="9.2" fill="#231f20" stroke="#231f20" stroke-width="0.07" text-anchor="end" textLength="9.1" lengthAdjust="spacingAndGlyphs">40</text>
<line x1="59.1" y1="520.24" x2="62.2" y2="520.24" stroke="#231f20" stroke-width="0.9"/>
<text x="54.9" y="523.44" font-size="9.2" fill="#231f20" stroke="#231f20" stroke-width="0.07" text-anchor="end" textLength="9.1" lengthAdjust="spacingAndGlyphs">60</text>
<line x1="59.1" y1="503.32" x2="62.2" y2="503.32" stroke="#231f20" stroke-width="0.9"/>
<text x="54.9" y="506.52" font-size="9.2" fill="#231f20" stroke="#231f20" stroke-width="0.07" text-anchor="end" textLength="9.1" lengthAdjust="spacingAndGlyphs">80</text>
<line x1="59.1" y1="486.4" x2="62.2" y2="486.4" stroke="#231f20" stroke-width="0.9"/>
<text x="54.9" y="489.59999999999997" font-size="9.2" fill="#231f20" stroke="#231f20" stroke-width="0.07" text-anchor="end" textLength="13.649999999999999" lengthAdjust="spacingAndGlyphs">100</text>
<line x1="61.6" y1="571" x2="203" y2="571" stroke="#231f20" stroke-width="1.4"/>
<line x1="62.2" y1="571" x2="62.2" y2="573.6" stroke="#231f20" stroke-width="0.9"/>
<text x="62.2" y="585.2" font-size="9.3" fill="#231f20" stroke="#231f20" stroke-width="0.07" text-anchor="middle" textLength="9.6" lengthAdjust="spacingAndGlyphs" style="stroke-width:0.25px">14</text>
<line x1="73.666" y1="571" x2="73.666" y2="573.6" stroke="#231f20" stroke-width="0.9"/>
<text x="73.666" y="585.2" font-size="9.3" fill="#231f20" stroke="#231f20" stroke-width="0.07" text-anchor="middle" textLength="9.6" lengthAdjust="spacingAndGlyphs" style="stroke-width:0.25px">21</text>
<line x1="85.132" y1="571" x2="85.132" y2="573.6" stroke="#231f20" stroke-width="0.9"/>
<text x="85.132" y="585.2" font-size="9.3" fill="#231f20" stroke="#231f20" stroke-width="0.07" text-anchor="middle" textLength="9.6" lengthAdjust="spacingAndGlyphs" style="stroke-width:0.25px">28</text>
<line x1="96.598" y1="571" x2="96.598" y2="573.6" stroke="#231f20" stroke-width="0.9"/>
<text x="96.598" y="585.2" font-size="9.3" fill="#231f20" stroke="#231f20" stroke-width="0.07" text-anchor="middle" textLength="9.6" lengthAdjust="spacingAndGlyphs" style="stroke-width:0.25px">35</text>
<line x1="108.064" y1="571" x2="108.064" y2="573.6" stroke="#231f20" stroke-width="0.9"/>
<text x="108.064" y="585.2" font-size="9.3" fill="#231f20" stroke="#231f20" stroke-width="0.07" text-anchor="middle" textLength="9.6" lengthAdjust="spacingAndGlyphs" style="stroke-width:0.25px">42</text>
<line x1="119.53" y1="571" x2="119.53" y2="573.6" stroke="#231f20" stroke-width="0.9"/>
<text x="119.53" y="585.2" font-size="9.3" fill="#231f20" stroke="#231f20" stroke-width="0.07" text-anchor="middle" textLength="9.6" lengthAdjust="spacingAndGlyphs" style="stroke-width:0.25px">49</text>
<line x1="130.99599999999998" y1="571" x2="130.99599999999998" y2="573.6" stroke="#231f20" stroke-width="0.9"/>
<text x="130.99599999999998" y="585.2" font-size="9.3" fill="#231f20" stroke="#231f20" stroke-width="0.07" text-anchor="middle" textLength="9.6" lengthAdjust="spacingAndGlyphs" style="stroke-width:0.25px">56</text>
<line x1="142.462" y1="571" x2="142.462" y2="573.6" stroke="#231f20" stroke-width="0.9"/>
<text x="142.462" y="585.2" font-size="9.3" fill="#231f20" stroke="#231f20" stroke-width="0.07" text-anchor="middle" textLength="9.6" lengthAdjust="spacingAndGlyphs" style="stroke-width:0.25px">63</text>
<line x1="153.928" y1="571" x2="153.928" y2="573.6" stroke="#231f20" stroke-width="0.9"/>
<text x="153.928" y="585.2" font-size="9.3" fill="#231f20" stroke="#231f20" stroke-width="0.07" text-anchor="middle" textLength="9.6" lengthAdjust="spacingAndGlyphs" style="stroke-width:0.25px">70</text>
<line x1="165.394" y1="571" x2="165.394" y2="573.6" stroke="#231f20" stroke-width="0.9"/>
<text x="165.394" y="585.2" font-size="9.3" fill="#231f20" stroke="#231f20" stroke-width="0.07" text-anchor="middle" textLength="9.6" lengthAdjust="spacingAndGlyphs" style="stroke-width:0.25px">77</text>
<line x1="176.86" y1="571" x2="176.86" y2="573.6" stroke="#231f20" stroke-width="0.9"/>
<text x="176.86" y="585.2" font-size="9.3" fill="#231f20" stroke="#231f20" stroke-width="0.07" text-anchor="middle" textLength="9.6" lengthAdjust="spacingAndGlyphs" style="stroke-width:0.25px">84</text>
<line x1="188.326" y1="571" x2="188.326" y2="573.6" stroke="#231f20" stroke-width="0.9"/>
<text x="188.326" y="585.2" font-size="9.3" fill="#231f20" stroke="#231f20" stroke-width="0.07" text-anchor="middle" textLength="9.6" lengthAdjust="spacingAndGlyphs" style="stroke-width:0.25px">91</text>
<line x1="199.79199999999997" y1="571" x2="199.79199999999997" y2="573.6" stroke="#231f20" stroke-width="0.9"/>
<text x="199.79199999999997" y="585.2" font-size="9.3" fill="#231f20" stroke="#231f20" stroke-width="0.07" text-anchor="middle" textLength="9.6" lengthAdjust="spacingAndGlyphs" style="stroke-width:0.25px">98</text>
<text x="88.6" y="599.9" font-size="10.4" fill="#231f20" stroke="#231f20" stroke-width="0.07" textLength="88.6" lengthAdjust="spacingAndGlyphs" style="stroke-width:0.25px">Days after KG-1 infusion</text>
<text x="34.4" y="548.6" font-size="10.8" fill="#231f20" stroke="#231f20" stroke-width="0.07" textLength="43.5" lengthAdjust="spacingAndGlyphs" transform="rotate(-90 34.4 548.6)">% of hCD33</text>
<text x="30.2" y="505.2" font-size="6.6" fill="#231f20" stroke="#231f20" stroke-width="0.07" transform="rotate(-90 30.2 505.2)">+</text>
<line x1="163.9" y1="564.3" x2="163.9" y2="568" stroke="#eda23a" stroke-width="0.9"/>
<line x1="162.1" y1="564.3" x2="165.70000000000002" y2="564.3" stroke="#eda23a" stroke-width="0.9"/>
<line x1="186.7" y1="555.4" x2="186.7" y2="565.2" stroke="#eda23a" stroke-width="0.9"/>
<line x1="184.89999999999998" y1="555.4" x2="188.5" y2="555.4" stroke="#eda23a" stroke-width="0.9"/>
<path d="M109.7,570.9 L121.1,570.3 L142.8,570.7 L163.9,568 L186.7,565.2" stroke="#eda23a" stroke-width="1.2" fill="none" />
<line x1="142.5" y1="559.2" x2="142.5" y2="564.9" stroke="#56a456" stroke-width="0.9"/>
<line x1="140.7" y1="559.2" x2="144.3" y2="559.2" stroke="#56a456" stroke-width="0.9"/>
<line x1="163.9" y1="514.5" x2="163.9" y2="531.2" stroke="#56a456" stroke-width="0.9"/>
<line x1="162.1" y1="514.5" x2="165.70000000000002" y2="514.5" stroke="#56a456" stroke-width="0.9"/>
<path d="M109.7,570.8 L121.1,570 L142.5,564.9 L163.9,531.2" stroke="#56a456" stroke-width="1.2" fill="none" />
<line x1="109.7" y1="563.5" x2="109.7" y2="567.7" stroke="#2f5890" stroke-width="0.9"/>
<line x1="107.9" y1="563.5" x2="111.5" y2="563.5" stroke="#2f5890" stroke-width="0.9"/>
<line x1="121.1" y1="556.5" x2="121.1" y2="563.7" stroke="#2f5890" stroke-width="0.9"/>
<line x1="119.3" y1="556.5" x2="122.89999999999999" y2="556.5" stroke="#2f5890" stroke-width="0.9"/>
<line x1="142.7" y1="501.6" x2="142.7" y2="527.9" stroke="#2f5890" stroke-width="0.9"/>
<line x1="140.89999999999998" y1="501.6" x2="144.5" y2="501.6" stroke="#2f5890" stroke-width="0.9"/>
<line x1="163.9" y1="491.1" x2="163.9" y2="506.7" stroke="#2f5890" stroke-width="0.9"/>
<line x1="162.1" y1="491.1" x2="165.70000000000002" y2="491.1" stroke="#2f5890" stroke-width="0.9"/>
<path d="M85.3,570.9 L96.7,570.9 L109.7,567.7 L121.1,563.7 L142.7,527.9 L163.9,506.7" stroke="#2f5890" stroke-width="1.2" fill="none" />
<line x1="85.3" y1="499.2" x2="85.3" y2="513.8" stroke="#a3223f" stroke-width="0.9"/>
<line x1="83.5" y1="499.2" x2="87.1" y2="499.2" stroke="#a3223f" stroke-width="0.9"/>
<line x1="96.6" y1="487.6" x2="96.6" y2="505.2" stroke="#a3223f" stroke-width="0.9"/>
<line x1="94.8" y1="487.6" x2="98.39999999999999" y2="487.6" stroke="#a3223f" stroke-width="0.9"/>
<line x1="109.8" y1="485.5" x2="109.8" y2="501.8" stroke="#a3223f" stroke-width="0.9"/>
<line x1="108.0" y1="485.5" x2="111.6" y2="485.5" stroke="#a3223f" stroke-width="0.9"/>
<path d="M85.5,513.8 L96.75,505.2 L109.7,501.8 L120.8,491.9" stroke="#a3223f" stroke-width="1.2" fill="none" />
<circle cx="109.7" cy="570.9" r="1.9" stroke="#2a1a1a" stroke-width="0.8" fill="#e79a35"/>
<circle cx="121.1" cy="570.3" r="1.9" stroke="#2a1a1a" stroke-width="0.8" fill="#e79a35"/>
<circle cx="142.8" cy="570.7" r="1.9" stroke="#2a1a1a" stroke-width="0.8" fill="#e79a35"/>
<circle cx="163.9" cy="568" r="1.9" stroke="#2a1a1a" stroke-width="0.8" fill="#e79a35"/>
<circle cx="186.7" cy="565.2" r="1.9" stroke="#2a1a1a" stroke-width="0.8" fill="#e79a35"/>
<circle cx="109.7" cy="570.8" r="1.9" stroke="#2a1a1a" stroke-width="0.8" fill="#5aad4f"/>
<circle cx="121.1" cy="570" r="1.9" stroke="#2a1a1a" stroke-width="0.8" fill="#5aad4f"/>
<circle cx="142.5" cy="564.9" r="1.9" stroke="#2a1a1a" stroke-width="0.8" fill="#5aad4f"/>
<circle cx="163.9" cy="531.2" r="1.9" stroke="#2a1a1a" stroke-width="0.8" fill="#5aad4f"/>
<circle cx="85.3" cy="570.9" r="1.9" stroke="#14253f" stroke-width="0.8" fill="#1d3a62"/>
<circle cx="96.7" cy="570.9" r="1.9" stroke="#14253f" stroke-width="0.8" fill="#1d3a62"/>
<circle cx="109.7" cy="567.7" r="1.9" stroke="#14253f" stroke-width="0.8" fill="#1d3a62"/>
<circle cx="121.1" cy="563.7" r="1.9" stroke="#14253f" stroke-width="0.8" fill="#1d3a62"/>
<circle cx="142.7" cy="527.9" r="1.9" stroke="#14253f" stroke-width="0.8" fill="#1d3a62"/>
<circle cx="163.9" cy="506.7" r="1.9" stroke="#14253f" stroke-width="0.8" fill="#1d3a62"/>
<circle cx="85.5" cy="513.8" r="1.9" stroke="#2a1a1a" stroke-width="0.8" fill="#7d1330"/>
<circle cx="96.75" cy="505.2" r="1.9" stroke="#2a1a1a" stroke-width="0.8" fill="#7d1330"/>
<circle cx="109.7" cy="501.8" r="1.9" stroke="#2a1a1a" stroke-width="0.8" fill="#7d1330"/>
<circle cx="120.8" cy="491.9" r="1.9" stroke="#2a1a1a" stroke-width="0.8" fill="#7d1330"/>
<text x="262.5" y="450" font-size="8.3" fill="#231f20" stroke="#231f20" stroke-width="0.07" style="letter-spacing:-0.05px">CD33.CAR<tspan dy="-3.2" font-size="5.6">+</tspan><tspan dy="3.2">​</tspan>CXCR4<tspan dy="-3.2" font-size="5.6">wt</tspan><tspan dy="3.2">​</tspan> vs</text>
<text x="262.5" y="460" font-size="8.3" fill="#231f20" stroke="#231f20" stroke-width="0.07" style="letter-spacing:-0.05px">CD33.CAR<tspan dy="-3.2" font-size="5.6">+</tspan><tspan dy="3.2">​</tspan>: <tspan font-style="italic">P</tspan> = .01</text>
<text x="262.5" y="474.2" font-size="8.3" fill="#231f20" stroke="#231f20" stroke-width="0.07" style="letter-spacing:-0.05px">CD33.CAR<tspan dy="-3.2" font-size="5.6">+</tspan><tspan dy="3.2">​</tspan>CXCR4<tspan dy="-3.2" font-size="5.6">wt</tspan><tspan dy="3.2">​</tspan> vs</text>
<text x="262.5" y="483.8" font-size="8.3" fill="#231f20" stroke="#231f20" stroke-width="0.07" style="letter-spacing:-0.05px">CD33.CAR<tspan dy="-3.2" font-size="5.6">+</tspan><tspan dy="3.2">​</tspan>CXCR4<tspan dy="-3.2" font-size="5.6">mut</tspan><tspan dy="3.2">​</tspan>: <tspan font-style="italic">P</tspan> = .01</text>
<text x="338.2" y="516" font-size="8.8" fill="#231f20" stroke="#231f20" stroke-width="0.07" textLength="36.9" lengthAdjust="spacingAndGlyphs"><tspan font-style="italic">P</tspan> = .0001</text>
<line x1="258" y1="481" x2="258" y2="570.8" stroke="#231f20" stroke-width="1.35"/>
<line x1="255" y1="570.8" x2="258" y2="570.8" stroke="#231f20" stroke-width="0.9"/>
<text x="250.8" y="574.0" font-size="9.2" fill="#231f20" stroke="#231f20" stroke-width="0.07" text-anchor="end" textLength="4.55" lengthAdjust="spacingAndGlyphs">0</text>
<line x1="255" y1="554.5759999999999" x2="258" y2="554.5759999999999" stroke="#231f20" stroke-width="0.9"/>
<text x="250.8" y="557.776" font-size="9.2" fill="#231f20" stroke="#231f20" stroke-width="0.07" text-anchor="end" textLength="9.1" lengthAdjust="spacingAndGlyphs">20</text>
<line x1="255" y1="538.352" x2="258" y2="538.352" stroke="#231f20" stroke-width="0.9"/>
<text x="250.8" y="541.552" font-size="9.2" fill="#231f20" stroke="#231f20" stroke-width="0.07" text-anchor="end" textLength="9.1" lengthAdjust="spacingAndGlyphs">40</text>
<line x1="255" y1="522.1279999999999" x2="258" y2="522.1279999999999" stroke="#231f20" stroke-width="0.9"/>
<text x="250.8" y="525.328" font-size="9.2" fill="#231f20" stroke="#231f20" stroke-width="0.07" text-anchor="end" textLength="9.1" lengthAdjust="spacingAndGlyphs">60</text>
<line x1="255" y1="505.90399999999994" x2="258" y2="505.90399999999994" stroke="#231f20" stroke-width="0.9"/>
<text x="250.8" y="509.1039999999999" font-size="9.2" fill="#231f20" stroke="#231f20" stroke-width="0.07" text-anchor="end" textLength="9.1" lengthAdjust="spacingAndGlyphs">80</text>
<line x1="255" y1="489.67999999999995" x2="258" y2="489.67999999999995" stroke="#231f20" stroke-width="0.9"/>
<text x="250.8" y="492.87999999999994" font-size="9.2" fill="#231f20" stroke="#231f20" stroke-width="0.07" text-anchor="end" textLength="13.649999999999999" lengthAdjust="spacingAndGlyphs">100</text>
<line x1="257.4" y1="570.8" x2="396.4" y2="570.8" stroke="#231f20" stroke-width="1.4"/>
<line x1="258.0" y1="570.8" x2="258.0" y2="573.6" stroke="#231f20" stroke-width="0.9"/>
<text x="258.0" y="585.0" font-size="9.0" fill="#231f20" stroke="#231f20" stroke-width="0.07" text-anchor="middle" textLength="5.2" lengthAdjust="spacingAndGlyphs" style="stroke-width:0.25px">0</text>
<line x1="277.41" y1="570.8" x2="277.41" y2="573.6" stroke="#231f20" stroke-width="0.9"/>
<text x="277.41" y="585.0" font-size="9.0" fill="#231f20" stroke="#231f20" stroke-width="0.07" text-anchor="middle" textLength="10.4" lengthAdjust="spacingAndGlyphs" style="stroke-width:0.25px">30</text>
<line x1="296.82" y1="570.8" x2="296.82" y2="573.6" stroke="#231f20" stroke-width="0.9"/>
<text x="296.82" y="585.0" font-size="9.0" fill="#231f20" stroke="#231f20" stroke-width="0.07" text-anchor="middle" textLength="10.4" lengthAdjust="spacingAndGlyphs" style="stroke-width:0.25px">60</text>
<line x1="316.23" y1="570.8" x2="316.23" y2="573.6" stroke="#231f20" stroke-width="0.9"/>
<text x="316.23" y="585.0" font-size="9.0" fill="#231f20" stroke="#231f20" stroke-width="0.07" text-anchor="middle" textLength="10.4" lengthAdjust="spacingAndGlyphs" style="stroke-width:0.25px">90</text>
<line x1="335.64" y1="570.8" x2="335.64" y2="573.6" stroke="#231f20" stroke-width="0.9"/>
<text x="335.64" y="585.0" font-size="9.0" fill="#231f20" stroke="#231f20" stroke-width="0.07" text-anchor="middle" textLength="15.600000000000001" lengthAdjust="spacingAndGlyphs" style="stroke-width:0.25px">120</text>
<line x1="355.05" y1="570.8" x2="355.05" y2="573.6" stroke="#231f20" stroke-width="0.9"/>
<text x="355.05" y="585.0" font-size="9.0" fill="#231f20" stroke="#231f20" stroke-width="0.07" text-anchor="middle" textLength="15.600000000000001" lengthAdjust="spacingAndGlyphs" style="stroke-width:0.25px">150</text>
<line x1="374.46000000000004" y1="570.8" x2="374.46000000000004" y2="573.6" stroke="#231f20" stroke-width="0.9"/>
<text x="374.46000000000004" y="585.0" font-size="9.0" fill="#231f20" stroke="#231f20" stroke-width="0.07" text-anchor="middle" textLength="15.600000000000001" lengthAdjust="spacingAndGlyphs" style="stroke-width:0.25px">180</text>
<line x1="393.87" y1="570.8" x2="393.87" y2="573.6" stroke="#231f20" stroke-width="0.9"/>
<text x="393.87" y="585.0" font-size="9.0" fill="#231f20" stroke="#231f20" stroke-width="0.07" text-anchor="middle" textLength="15.600000000000001" lengthAdjust="spacingAndGlyphs" style="stroke-width:0.25px">210</text>
<text x="283.3" y="599.8" font-size="10.4" fill="#231f20" stroke="#231f20" stroke-width="0.07" textLength="88.2" lengthAdjust="spacingAndGlyphs" style="stroke-width:0.25px">Days after KG-1 infusion</text>
<text x="229.7" y="565.4" font-size="10" fill="#231f20" stroke="#231f20" stroke-width="0.07" textLength="80.2" lengthAdjust="spacingAndGlyphs" transform="rotate(-90 229.7 565.4)">Probability of survival</text>
<path d="M258,489.7 L321.7,489.7 L321.7,509.3 L326.9,509.3 L326.9,530 L331,530 L331,550.3 L387.4,550.3 L387.4,570.7" stroke="#f2ad60" stroke-width="1.3" fill="none" />
<path d="M258,489.7 L311.4,489.7 L311.4,509.3 L312.1,509.3 L312.1,530 L316.2,530 L316.2,570.7" stroke="#66b266" stroke-width="1.3" fill="none" />
<path d="M258,489.7 L306.6,489.7 L306.6,509.3 L307.3,509.3 L307.3,530 L308.4,530 L308.4,550.3 L312.9,550.3 L312.9,570.7" stroke="#3a6592" stroke-width="1.3" fill="none" />
<path d="M258,489.7 L294.5,489.7 L294.5,509.3 L295,509.3 L295,530 L295.3,530 L295.3,550.3 L300.5,550.3 L300.5,570.7" stroke="#c4446a" stroke-width="1.3" fill="none" />
<line x1="452.1" y1="474.2" x2="452.1" y2="570.9" stroke="#231f20" stroke-width="1.35"/>
<line x1="448.90000000000003" y1="476.5" x2="452.1" y2="476.5" stroke="#231f20" stroke-width="0.9"/>
<text x="445" y="479.4" font-size="9.0" fill="#231f20" stroke="#231f20" stroke-width="0.07" text-anchor="end">80</text>
<line x1="448.90000000000003" y1="500.09999999999997" x2="452.1" y2="500.09999999999997" stroke="#231f20" stroke-width="0.9"/>
<text x="445" y="502.99999999999994" font-size="9.0" fill="#231f20" stroke="#231f20" stroke-width="0.07" text-anchor="end">60</text>
<line x1="448.90000000000003" y1="523.6999999999999" x2="452.1" y2="523.6999999999999" stroke="#231f20" stroke-width="0.9"/>
<text x="445" y="526.5999999999999" font-size="9.0" fill="#231f20" stroke="#231f20" stroke-width="0.07" text-anchor="end">40</text>
<line x1="448.90000000000003" y1="547.3" x2="452.1" y2="547.3" stroke="#231f20" stroke-width="0.9"/>
<text x="445" y="550.1999999999999" font-size="9.0" fill="#231f20" stroke="#231f20" stroke-width="0.07" text-anchor="end">20</text>
<line x1="448.90000000000003" y1="570.9" x2="452.1" y2="570.9" stroke="#231f20" stroke-width="0.9"/>
<text x="445" y="573.8" font-size="9.0" fill="#231f20" stroke="#231f20" stroke-width="0.07" text-anchor="end">0</text>
<rect x="458.6" y="557.3299999999999" width="12" height="13.57000000000005" fill="#c2c8e6" />
<line x1="464.6" y1="538.096" x2="464.6" y2="557.3299999999999" stroke="#3b6690" stroke-width="0.8"/>
<line x1="461.6" y1="538.096" x2="467.6" y2="538.096" stroke="#3b6690" stroke-width="0.8"/>
<circle cx="464.6" cy="523.6999999999999" r="2.0" stroke="#3b6690" stroke-width="0.65" fill="#fff"/>
<circle cx="464.6" cy="561.4599999999999" r="2.0" stroke="#3b6690" stroke-width="0.65" fill="#fff"/>
<circle cx="464.6" cy="569.13" r="2.0" stroke="#3b6690" stroke-width="0.65" fill="#fff"/>
<circle cx="464.6" cy="570.9" r="2.0" stroke="#3b6690" stroke-width="0.65" fill="#fff"/>
<rect x="477.6" y="559.1" width="12" height="11.799999999999955" fill="#fcdcaa" />
<line x1="483.6" y1="549.3059999999999" x2="483.6" y2="559.1" stroke="#f0a540" stroke-width="0.8"/>
<line x1="480.6" y1="549.3059999999999" x2="486.6" y2="549.3059999999999" stroke="#f0a540" stroke-width="0.8"/>
<circle cx="483.6" cy="539.04" r="2.0" stroke="#f0a540" stroke-width="0.65" fill="#fff"/>
<circle cx="483.6" cy="559.1" r="2.0" stroke="#f0a540" stroke-width="0.65" fill="#fff"/>
<circle cx="483.6" cy="563.23" r="2.0" stroke="#f0a540" stroke-width="0.65" fill="#fff"/>
<circle cx="483.6" cy="567.36" r="2.0" stroke="#f0a540" stroke-width="0.65" fill="#fff"/>
<rect x="496.4" y="514.85" width="12" height="56.049999999999955" fill="#cde8c6" />
<line x1="502.4" y1="492.42999999999995" x2="502.4" y2="536.09" stroke="#5fae62" stroke-width="0.8"/>
<line x1="499.4" y1="492.42999999999995" x2="505.4" y2="492.42999999999995" stroke="#5fae62" stroke-width="0.8"/>
<line x1="499.4" y1="536.09" x2="505.4" y2="536.09" stroke="#5fae62" stroke-width="0.8"/>
<circle cx="502.4" cy="492.42999999999995" r="2.0" stroke="#5fae62" stroke-width="0.65" fill="#fff"/>
<circle cx="502.4" cy="523.6999999999999" r="2.0" stroke="#5fae62" stroke-width="0.65" fill="#fff"/>
<circle cx="502.4" cy="531.96" r="2.0" stroke="#5fae62" stroke-width="0.65" fill="#fff"/>
<circle cx="502.4" cy="543.17" r="2.0" stroke="#5fae62" stroke-width="0.65" fill="#fff"/>
<line x1="451.5" y1="570.9" x2="511.5" y2="570.9" stroke="#231f20" stroke-width="1.4"/>
<line x1="464.6" y1="570.9" x2="464.6" y2="573.9" stroke="#231f20" stroke-width="0.9"/>
<line x1="483.6" y1="570.9" x2="483.6" y2="573.9" stroke="#231f20" stroke-width="0.9"/>
<line x1="502.4" y1="570.9" x2="502.4" y2="573.9" stroke="#231f20" stroke-width="0.9"/>
<line x1="465.2" y1="474.7" x2="502" y2="474.7" stroke="#231f20" stroke-width="1.25"/>
<path d="M481.50,470.10 L481.50,468.55 M481.50,470.10 L482.97,469.62 M481.50,470.10 L482.41,471.35 M481.50,470.10 L480.59,471.35 M481.50,470.10 L480.03,469.62 " stroke="#231f20" stroke-width="0.95" fill="none" stroke-linecap="round"/>
<path d="M485.70,470.10 L485.70,468.55 M485.70,470.10 L487.17,469.62 M485.70,470.10 L486.61,471.35 M485.70,470.10 L484.79,471.35 M485.70,470.10 L484.23,469.62 " stroke="#231f20" stroke-width="0.95" fill="none" stroke-linecap="round"/>
<line x1="483" y1="485.4" x2="501.6" y2="485.4" stroke="#231f20" stroke-width="1.25"/>
<path d="M488.10,480.80 L488.10,479.25 M488.10,480.80 L489.57,480.32 M488.10,480.80 L489.01,482.05 M488.10,480.80 L487.19,482.05 M488.10,480.80 L486.63,480.32 " stroke="#231f20" stroke-width="0.95" fill="none" stroke-linecap="round"/>
<path d="M492.30,480.80 L492.30,479.25 M492.30,480.80 L493.77,480.32 M492.30,480.80 L493.21,482.05 M492.30,480.80 L491.39,482.05 M492.30,480.80 L490.83,480.32 " stroke="#231f20" stroke-width="0.95" fill="none" stroke-linecap="round"/>
<path d="M496.50,480.80 L496.50,479.25 M496.50,480.80 L497.97,480.32 M496.50,480.80 L497.41,482.05 M496.50,480.80 L495.59,482.05 M496.50,480.80 L495.03,480.32 " stroke="#231f20" stroke-width="0.95" fill="none" stroke-linecap="round"/>
<text x="428.8" y="572.3" font-size="10" fill="#231f20" stroke="#231f20" stroke-width="0.07" textLength="99.8" lengthAdjust="spacingAndGlyphs" transform="rotate(-90 428.8 572.3)">% of conjugated migration</text>
<rect x="0.5" y="0.5" width="519" height="609" fill="none" stroke="#505050" stroke-width="1"/>
</svg></body></html>
